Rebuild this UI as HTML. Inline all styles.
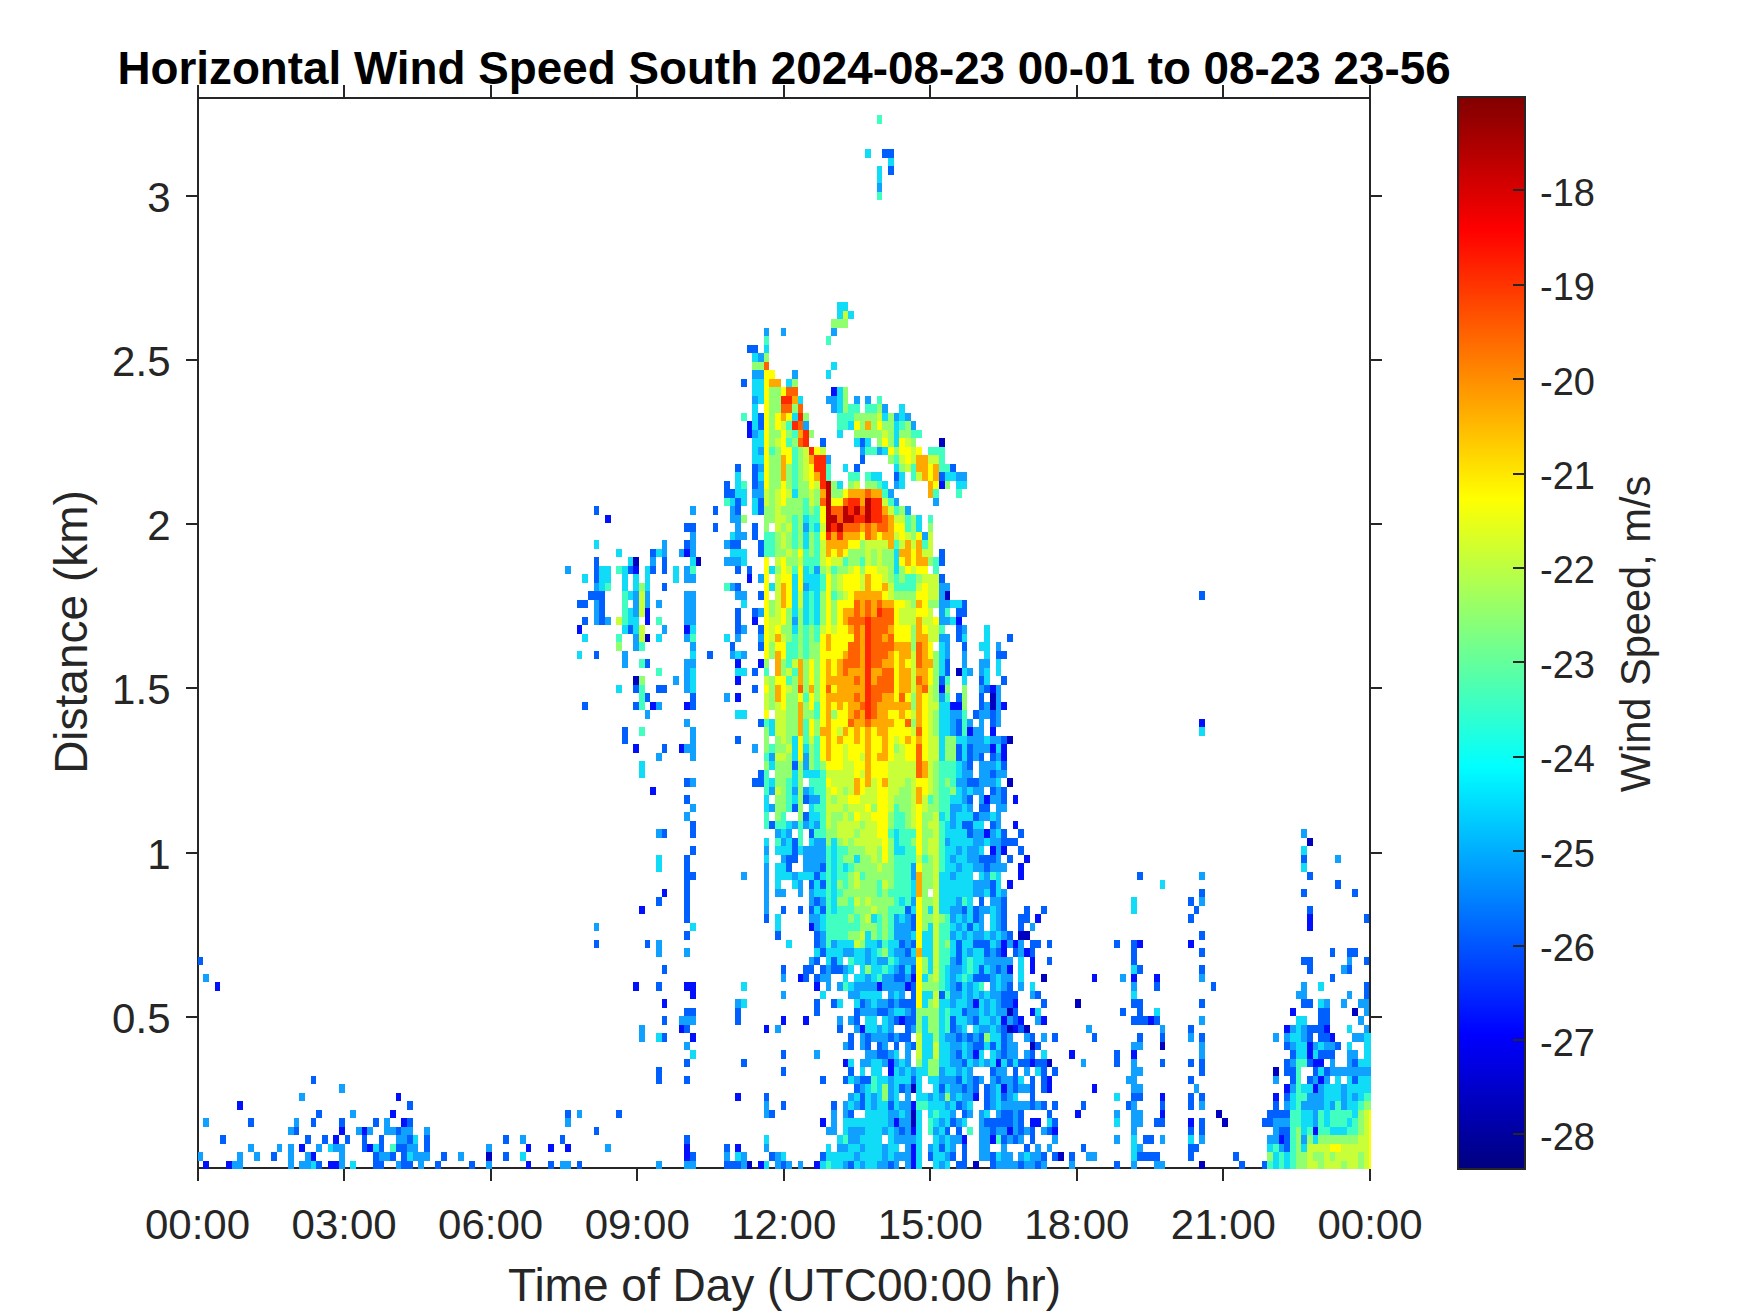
<!DOCTYPE html>
<html><head><meta charset="utf-8"><style>
html,body{margin:0;padding:0;background:#fff;}
body{width:1750px;height:1313px;position:relative;overflow:hidden;}
</style></head><body>
<svg width="1750" height="1313" viewBox="0 0 1750 1313" style="position:absolute;left:0;top:0">
<g stroke="#262626" stroke-width="2" fill="none" shape-rendering="crispEdges">
<path d="M197.5 1168.0V98.0H1370.0V1168.0Z"/>
<path d="M197.5 1168.0v13M197.5 98.0v-13M344.1 1168.0v13M344.1 98.0v-13M490.6 1168.0v13M490.6 98.0v-13M637.2 1168.0v13M637.2 98.0v-13M783.8 1168.0v13M783.8 98.0v-13M930.3 1168.0v13M930.3 98.0v-13M1076.9 1168.0v13M1076.9 98.0v-13M1223.4 1168.0v13M1223.4 98.0v-13M1370.0 1168.0v13M1370.0 98.0v-13M197.5 1016.8h-12M1370.0 1016.8h12M197.5 852.6h-12M1370.0 852.6h12M197.5 688.4h-12M1370.0 688.4h12M197.5 524.2h-12M1370.0 524.2h12M197.5 360.0h-12M1370.0 360.0h12M197.5 195.8h-12M1370.0 195.8h12"/>
</g>
<g shape-rendering="crispEdges">
<path fill="#0010ff" d="M203.2 1160.5H208.8V1169.0H203.2zM225.8 1160.5H231.5V1169.0H225.8zM327.7 1160.5H339.0V1169.0H327.7zM525.8 1160.5H531.4V1169.0H525.8zM757.8 1160.5H763.5V1169.0H757.8zM814.4 1160.5H820.1V1169.0H814.4zM910.7 1160.5H916.3V1169.0H910.7zM310.7 1152.0H316.4V1160.5H310.7zM684.3 1152.0H689.9V1160.5H684.3zM910.7 1152.0H916.3V1160.5H910.7zM299.4 1143.5H305.0V1152.0H299.4zM367.3 1143.5H373.0V1152.0H367.3zM525.8 1143.5H531.4V1152.0H525.8zM548.4 1143.5H554.1V1152.0H548.4zM565.4 1143.5H571.1V1152.0H565.4zM684.3 1143.5H689.9V1152.0H684.3zM735.2 1143.5H740.9V1152.0H735.2zM910.7 1143.5H916.3V1152.0H910.7zM333.3 1135.0H339.0V1143.5H333.3zM961.6 1135.0H967.3V1143.5H961.6zM989.9 1135.0H995.6V1143.5H989.9zM1278.6 1135.0H1284.2V1143.5H1278.6zM339.0 1126.5H344.7V1135.0H339.0zM361.6 1126.5H367.3V1135.0H361.6zM910.7 1126.5H916.3V1135.0H910.7zM1006.9 1126.5H1012.5V1135.0H1006.9zM1052.2 1126.5H1057.8V1135.0H1052.2zM1312.5 1126.5H1318.2V1135.0H1312.5zM401.3 1118.0H406.9V1126.5H401.3zM820.1 1118.0H825.8V1126.5H820.1zM893.7 1118.0H899.3V1126.5H893.7zM1029.5 1118.0H1040.8V1126.5H1029.5zM1188.0 1118.0H1193.7V1126.5H1188.0zM389.9 1109.5H395.6V1118.0H389.9zM1074.8 1109.5H1080.5V1118.0H1074.8zM1159.7 1109.5H1165.4V1118.0H1159.7zM237.1 1101.0H242.8V1109.5H237.1zM910.7 1101.0H916.3V1109.5H910.7zM395.6 1092.5H401.3V1101.0H395.6zM735.2 1092.5H740.9V1101.0H735.2zM972.9 1092.5H978.6V1101.0H972.9zM1159.7 1092.5H1165.4V1101.0H1159.7zM1272.9 1092.5H1278.6V1101.0H1272.9zM1001.2 1084.0H1006.9V1092.5H1001.2zM1046.5 1084.0H1052.2V1092.5H1046.5zM1091.8 1084.0H1097.4V1092.5H1091.8zM1284.2 1084.0H1289.9V1092.5H1284.2zM1312.5 1084.0H1318.2V1092.5H1312.5zM1046.5 1075.5H1052.2V1084.0H1046.5zM1318.2 1075.5H1323.8V1084.0H1318.2zM888.0 1067.0H893.7V1075.5H888.0zM842.7 1058.5H848.4V1067.0H842.7zM888.0 1058.5H893.7V1067.0H888.0zM995.6 1058.5H1001.2V1067.0H995.6zM1029.5 1058.5H1035.2V1067.0H1029.5zM1312.5 1058.5H1323.8V1067.0H1312.5zM972.9 1050.0H978.6V1058.5H972.9zM1069.1 1050.0H1074.8V1058.5H1069.1zM1131.4 1050.0H1137.1V1058.5H1131.4zM1306.9 1050.0H1312.5V1058.5H1306.9zM1306.9 1041.5H1312.5V1050.0H1306.9zM689.9 1033.0H695.6V1041.5H689.9zM1329.5 1033.0H1335.2V1041.5H1329.5zM678.6 1024.5H684.3V1033.0H678.6zM763.5 1024.5H769.2V1033.0H763.5zM859.7 1024.5H865.4V1033.0H859.7zM1012.5 1024.5H1018.2V1033.0H1012.5zM1284.2 1024.5H1289.9V1033.0H1284.2zM1323.8 1024.5H1329.5V1033.0H1323.8zM780.5 1016.0H786.1V1024.5H780.5zM803.1 1016.0H808.8V1024.5H803.1zM899.3 1016.0H905.0V1024.5H899.3zM1001.2 1016.0H1006.9V1024.5H1001.2zM1018.2 1016.0H1023.9V1024.5H1018.2zM1040.8 1016.0H1046.5V1024.5H1040.8zM1148.4 1016.0H1154.0V1024.5H1148.4zM1029.5 1007.5H1035.2V1016.0H1029.5zM1289.9 1007.5H1295.5V1016.0H1289.9zM661.6 999.0H667.3V1007.5H661.6zM972.9 999.0H978.6V1007.5H972.9zM1012.5 999.0H1018.2V1007.5H1012.5zM689.9 990.5H695.6V999.0H689.9zM214.5 982.0H220.1V990.5H214.5zM633.3 982.0H639.0V990.5H633.3zM684.3 982.0H695.6V990.5H684.3zM814.4 982.0H820.1V990.5H814.4zM876.7 982.0H882.4V990.5H876.7zM905.0 982.0H910.7V990.5H905.0zM797.5 973.5H803.1V982.0H797.5zM910.7 973.5H916.3V982.0H910.7zM1091.8 973.5H1097.4V982.0H1091.8zM1131.4 973.5H1137.1V982.0H1131.4zM1154.0 973.5H1159.7V982.0H1154.0zM1006.9 965.0H1012.5V973.5H1006.9zM1029.5 965.0H1035.2V973.5H1029.5zM1029.5 956.5H1035.2V965.0H1029.5zM1001.2 948.0H1006.9V956.5H1001.2zM1023.9 948.0H1029.5V956.5H1023.9zM1001.2 939.5H1006.9V948.0H1001.2zM1012.5 939.5H1018.2V948.0H1012.5zM1137.1 939.5H1142.7V948.0H1137.1zM1188.0 939.5H1193.7V948.0H1188.0zM808.8 922.5H814.4V931.0H808.8zM1306.9 922.5H1312.5V931.0H1306.9zM1035.2 914.0H1040.8V922.5H1035.2zM1306.9 914.0H1312.5V922.5H1306.9zM639.0 905.5H644.6V914.0H639.0zM661.6 888.5H667.3V897.0H661.6zM1006.9 880.0H1012.5V888.5H1006.9zM1018.2 871.5H1023.9V880.0H1018.2zM1018.2 863.0H1023.9V871.5H1018.2zM1023.9 854.5H1029.5V863.0H1023.9zM989.9 846.0H995.6V854.5H989.9zM1001.2 846.0H1006.9V854.5H1001.2zM984.2 829.0H989.9V837.5H984.2zM1012.5 820.5H1018.2V829.0H1012.5zM984.2 795.0H989.9V803.5H984.2zM1012.5 795.0H1018.2V803.5H1012.5zM650.3 786.5H656.0V795.0H650.3zM1001.2 752.5H1006.9V761.0H1001.2zM633.3 744.0H639.0V752.5H633.3zM678.6 744.0H684.3V752.5H678.6zM989.9 744.0H995.6V752.5H989.9zM1001.2 744.0H1006.9V752.5H1001.2zM967.3 727.0H972.9V735.5H967.3zM989.9 727.0H995.6V735.5H989.9zM1199.3 718.5H1205.0V727.0H1199.3zM650.3 701.5H656.0V710.0H650.3zM684.3 701.5H689.9V710.0H684.3zM950.3 701.5H961.6V710.0H950.3zM1001.2 701.5H1006.9V710.0H1001.2zM735.2 693.0H740.9V701.5H735.2zM939.0 684.5H944.6V693.0H939.0zM989.9 684.5H995.6V693.0H989.9zM735.2 676.0H740.9V684.5H735.2zM735.2 659.0H740.9V667.5H735.2zM757.8 659.0H763.5V667.5H757.8zM576.7 625.0H582.4V633.5H576.7zM684.3 625.0H689.9V633.5H684.3zM644.6 616.5H650.3V625.0H644.6zM752.2 616.5H757.8V625.0H752.2zM955.9 616.5H961.6V625.0H955.9zM644.6 608.0H650.3V616.5H644.6zM746.5 574.0H752.2V582.5H746.5zM633.3 565.5H639.0V574.0H633.3zM684.3 548.5H689.9V557.0H684.3zM605.0 514.5H610.7V523.0H605.0zM939.0 480.5H944.6V489.0H939.0zM746.5 429.5H752.2V438.0H746.5zM746.5 421.0H752.2V429.5H746.5zM831.4 387.0H837.1V395.5H831.4z"/>
<path fill="#10a0ff" d="M231.5 1160.5H242.8V1169.0H231.5zM288.1 1160.5H293.7V1169.0H288.1zM299.4 1160.5H310.7V1169.0H299.4zM339.0 1160.5H344.7V1169.0H339.0zM395.6 1160.5H401.3V1169.0H395.6zM418.2 1160.5H423.9V1169.0H418.2zM486.2 1160.5H491.8V1169.0H486.2zM559.7 1160.5H571.1V1169.0H559.7zM656.0 1160.5H661.6V1169.0H656.0zM684.3 1160.5H695.6V1169.0H684.3zM740.9 1160.5H746.5V1169.0H740.9zM774.8 1160.5H780.5V1169.0H774.8zM786.1 1160.5H791.8V1169.0H786.1zM797.5 1160.5H803.1V1169.0H797.5zM842.7 1160.5H848.4V1169.0H842.7zM859.7 1160.5H865.4V1169.0H859.7zM876.7 1160.5H888.0V1169.0H876.7zM893.7 1160.5H899.3V1169.0H893.7zM905.0 1160.5H910.7V1169.0H905.0zM939.0 1160.5H944.6V1169.0H939.0zM995.6 1160.5H1018.2V1169.0H995.6zM1023.9 1160.5H1035.2V1169.0H1023.9zM1040.8 1160.5H1046.5V1169.0H1040.8zM1069.1 1160.5H1074.8V1169.0H1069.1zM1131.4 1160.5H1137.1V1169.0H1131.4zM1154.0 1160.5H1165.4V1169.0H1154.0zM197.5 1152.0H203.2V1160.5H197.5zM237.1 1152.0H242.8V1160.5H237.1zM254.1 1152.0H259.8V1160.5H254.1zM288.1 1152.0H293.7V1160.5H288.1zM305.0 1152.0H310.7V1160.5H305.0zM339.0 1152.0H344.7V1160.5H339.0zM378.6 1152.0H389.9V1160.5H378.6zM412.6 1152.0H429.6V1160.5H412.6zM457.9 1152.0H463.5V1160.5H457.9zM723.9 1152.0H729.5V1160.5H723.9zM740.9 1152.0H746.5V1160.5H740.9zM774.8 1152.0H780.5V1160.5H774.8zM854.1 1152.0H859.7V1160.5H854.1zM882.4 1152.0H888.0V1160.5H882.4zM893.7 1152.0H910.7V1160.5H893.7zM944.6 1152.0H950.3V1160.5H944.6zM978.6 1152.0H989.9V1160.5H978.6zM1001.2 1152.0H1012.5V1160.5H1001.2zM1018.2 1152.0H1023.9V1160.5H1018.2zM1029.5 1152.0H1040.8V1160.5H1029.5zM1086.1 1152.0H1097.4V1160.5H1086.1zM248.4 1143.5H254.1V1152.0H248.4zM276.7 1143.5H282.4V1152.0H276.7zM288.1 1143.5H293.7V1152.0H288.1zM316.4 1143.5H322.0V1152.0H316.4zM333.3 1143.5H344.7V1152.0H333.3zM406.9 1143.5H418.2V1152.0H406.9zM486.2 1143.5H491.8V1152.0H486.2zM605.0 1143.5H610.7V1152.0H605.0zM763.5 1143.5H769.2V1152.0H763.5zM837.1 1143.5H848.4V1152.0H837.1zM859.7 1143.5H865.4V1152.0H859.7zM882.4 1143.5H888.0V1152.0H882.4zM905.0 1143.5H910.7V1152.0H905.0zM927.6 1143.5H933.3V1152.0H927.6zM950.3 1143.5H955.9V1152.0H950.3zM978.6 1143.5H989.9V1152.0H978.6zM1001.2 1143.5H1006.9V1152.0H1001.2zM1035.2 1143.5H1040.8V1152.0H1035.2zM1046.5 1143.5H1052.2V1152.0H1046.5zM1137.1 1143.5H1142.7V1152.0H1137.1zM1278.6 1143.5H1284.2V1152.0H1278.6zM395.6 1135.0H406.9V1143.5H395.6zM520.1 1135.0H525.8V1143.5H520.1zM848.4 1135.0H859.7V1143.5H848.4zM893.7 1135.0H916.3V1143.5H893.7zM939.0 1135.0H944.6V1143.5H939.0zM950.3 1135.0H961.6V1143.5H950.3zM978.6 1135.0H989.9V1143.5H978.6zM1006.9 1135.0H1012.5V1143.5H1006.9zM1018.2 1135.0H1023.9V1143.5H1018.2zM1052.2 1135.0H1057.8V1143.5H1052.2zM1114.4 1135.0H1120.1V1143.5H1114.4zM1159.7 1135.0H1165.4V1143.5H1159.7zM1199.3 1135.0H1205.0V1143.5H1199.3zM1267.2 1135.0H1278.6V1143.5H1267.2zM1301.2 1135.0H1306.9V1143.5H1301.2zM288.1 1126.5H293.7V1135.0H288.1zM356.0 1126.5H361.6V1135.0H356.0zM367.3 1126.5H373.0V1135.0H367.3zM384.3 1126.5H395.6V1135.0H384.3zM401.3 1126.5H412.6V1135.0H401.3zM423.9 1126.5H429.6V1135.0H423.9zM825.8 1126.5H837.1V1135.0H825.8zM848.4 1126.5H865.4V1135.0H848.4zM882.4 1126.5H888.0V1135.0H882.4zM893.7 1126.5H899.3V1135.0H893.7zM905.0 1126.5H910.7V1135.0H905.0zM933.3 1126.5H939.0V1135.0H933.3zM978.6 1126.5H989.9V1135.0H978.6zM995.6 1126.5H1006.9V1135.0H995.6zM1012.5 1126.5H1018.2V1135.0H1012.5zM1023.9 1126.5H1029.5V1135.0H1023.9zM1040.8 1126.5H1046.5V1135.0H1040.8zM1131.4 1126.5H1137.1V1135.0H1131.4zM1272.9 1126.5H1278.6V1135.0H1272.9zM203.2 1118.0H208.8V1126.5H203.2zM293.7 1118.0H299.4V1126.5H293.7zM384.3 1118.0H389.9V1126.5H384.3zM565.4 1118.0H571.1V1126.5H565.4zM831.4 1118.0H837.1V1126.5H831.4zM888.0 1118.0H893.7V1126.5H888.0zM899.3 1118.0H910.7V1126.5H899.3zM939.0 1118.0H944.6V1126.5H939.0zM955.9 1118.0H961.6V1126.5H955.9zM978.6 1118.0H984.2V1126.5H978.6zM1012.5 1118.0H1018.2V1126.5H1012.5zM1131.4 1118.0H1142.7V1126.5H1131.4zM1272.9 1118.0H1289.9V1126.5H1272.9zM1312.5 1118.0H1318.2V1126.5H1312.5zM350.3 1109.5H356.0V1118.0H350.3zM576.7 1109.5H582.4V1118.0H576.7zM763.5 1109.5H769.2V1118.0H763.5zM831.4 1109.5H837.1V1118.0H831.4zM842.7 1109.5H848.4V1118.0H842.7zM888.0 1109.5H899.3V1118.0H888.0zM905.0 1109.5H910.7V1118.0H905.0zM950.3 1109.5H955.9V1118.0H950.3zM967.3 1109.5H972.9V1118.0H967.3zM978.6 1109.5H984.2V1118.0H978.6zM995.6 1109.5H1001.2V1118.0H995.6zM1012.5 1109.5H1018.2V1118.0H1012.5zM1114.4 1109.5H1120.1V1118.0H1114.4zM1131.4 1109.5H1142.7V1118.0H1131.4zM1312.5 1109.5H1318.2V1118.0H1312.5zM763.5 1101.0H769.2V1109.5H763.5zM842.7 1101.0H848.4V1109.5H842.7zM854.1 1101.0H859.7V1109.5H854.1zM871.0 1101.0H876.7V1109.5H871.0zM899.3 1101.0H910.7V1109.5H899.3zM944.6 1101.0H950.3V1109.5H944.6zM961.6 1101.0H967.3V1109.5H961.6zM989.9 1101.0H995.6V1109.5H989.9zM1001.2 1101.0H1029.5V1109.5H1001.2zM1035.2 1101.0H1040.8V1109.5H1035.2zM1131.4 1101.0H1137.1V1109.5H1131.4zM1199.3 1101.0H1205.0V1109.5H1199.3zM1284.2 1101.0H1289.9V1109.5H1284.2zM1301.2 1101.0H1323.8V1109.5H1301.2zM1329.5 1101.0H1335.2V1109.5H1329.5zM1340.8 1101.0H1346.5V1109.5H1340.8zM299.4 1092.5H305.0V1101.0H299.4zM848.4 1092.5H854.1V1101.0H848.4zM871.0 1092.5H876.7V1101.0H871.0zM888.0 1092.5H893.7V1101.0H888.0zM905.0 1092.5H910.7V1101.0H905.0zM927.6 1092.5H933.3V1101.0H927.6zM939.0 1092.5H944.6V1101.0H939.0zM950.3 1092.5H955.9V1101.0H950.3zM961.6 1092.5H972.9V1101.0H961.6zM989.9 1092.5H995.6V1101.0H989.9zM1006.9 1092.5H1012.5V1101.0H1006.9zM1306.9 1092.5H1323.8V1101.0H1306.9zM1340.8 1092.5H1346.5V1101.0H1340.8zM1352.1 1092.5H1357.8V1101.0H1352.1zM339.0 1084.0H344.7V1092.5H339.0zM859.7 1084.0H865.4V1092.5H859.7zM888.0 1084.0H893.7V1092.5H888.0zM905.0 1084.0H910.7V1092.5H905.0zM950.3 1084.0H961.6V1092.5H950.3zM967.3 1084.0H972.9V1092.5H967.3zM989.9 1084.0H995.6V1092.5H989.9zM1006.9 1084.0H1012.5V1092.5H1006.9zM1018.2 1084.0H1029.5V1092.5H1018.2zM1131.4 1084.0H1142.7V1092.5H1131.4zM1193.7 1084.0H1199.3V1092.5H1193.7zM1289.9 1084.0H1295.5V1092.5H1289.9zM1318.2 1084.0H1323.8V1092.5H1318.2zM1340.8 1084.0H1346.5V1092.5H1340.8zM854.1 1075.5H859.7V1084.0H854.1zM888.0 1075.5H893.7V1084.0H888.0zM939.0 1075.5H955.9V1084.0H939.0zM967.3 1075.5H972.9V1084.0H967.3zM978.6 1075.5H984.2V1084.0H978.6zM989.9 1075.5H995.6V1084.0H989.9zM1001.2 1075.5H1012.5V1084.0H1001.2zM1125.7 1075.5H1137.1V1084.0H1125.7zM1272.9 1075.5H1278.6V1084.0H1272.9zM1312.5 1075.5H1318.2V1084.0H1312.5zM1323.8 1075.5H1329.5V1084.0H1323.8zM899.3 1067.0H905.0V1075.5H899.3zM910.7 1067.0H916.3V1075.5H910.7zM939.0 1067.0H944.6V1075.5H939.0zM955.9 1067.0H961.6V1075.5H955.9zM967.3 1067.0H972.9V1075.5H967.3zM995.6 1067.0H1006.9V1075.5H995.6zM1023.9 1067.0H1029.5V1075.5H1023.9zM1131.4 1067.0H1142.7V1075.5H1131.4zM1329.5 1067.0H1371.0V1075.5H1329.5zM859.7 1058.5H871.0V1067.0H859.7zM882.4 1058.5H888.0V1067.0H882.4zM893.7 1058.5H899.3V1067.0H893.7zM905.0 1058.5H910.7V1067.0H905.0zM950.3 1058.5H961.6V1067.0H950.3zM972.9 1058.5H978.6V1067.0H972.9zM984.2 1058.5H989.9V1067.0H984.2zM1080.5 1058.5H1086.1V1067.0H1080.5zM1131.4 1058.5H1137.1V1067.0H1131.4zM1289.9 1058.5H1295.5V1067.0H1289.9zM1329.5 1058.5H1335.2V1067.0H1329.5zM1346.5 1058.5H1352.1V1067.0H1346.5zM814.4 1050.0H820.1V1058.5H814.4zM865.4 1050.0H876.7V1058.5H865.4zM888.0 1050.0H893.7V1058.5H888.0zM905.0 1050.0H910.7V1058.5H905.0zM950.3 1050.0H955.9V1058.5H950.3zM967.3 1050.0H972.9V1058.5H967.3zM995.6 1050.0H1001.2V1058.5H995.6zM1006.9 1050.0H1018.2V1058.5H1006.9zM1023.9 1050.0H1029.5V1058.5H1023.9zM1199.3 1050.0H1205.0V1058.5H1199.3zM1346.5 1050.0H1357.8V1058.5H1346.5zM684.3 1041.5H689.9V1050.0H684.3zM842.7 1041.5H848.4V1050.0H842.7zM859.7 1041.5H865.4V1050.0H859.7zM882.4 1041.5H888.0V1050.0H882.4zM905.0 1041.5H910.7V1050.0H905.0zM950.3 1041.5H961.6V1050.0H950.3zM967.3 1041.5H972.9V1050.0H967.3zM1006.9 1041.5H1018.2V1050.0H1006.9zM1131.4 1041.5H1142.7V1050.0H1131.4zM1199.3 1041.5H1205.0V1050.0H1199.3zM1289.9 1041.5H1295.5V1050.0H1289.9zM1312.5 1041.5H1318.2V1050.0H1312.5zM1323.8 1041.5H1335.2V1050.0H1323.8zM639.0 1033.0H644.6V1041.5H639.0zM859.7 1033.0H865.4V1041.5H859.7zM871.0 1033.0H888.0V1041.5H871.0zM893.7 1033.0H899.3V1041.5H893.7zM944.6 1033.0H955.9V1041.5H944.6zM961.6 1033.0H967.3V1041.5H961.6zM972.9 1033.0H978.6V1041.5H972.9zM1006.9 1033.0H1012.5V1041.5H1006.9zM1023.9 1033.0H1029.5V1041.5H1023.9zM1040.8 1033.0H1046.5V1041.5H1040.8zM1188.0 1033.0H1193.7V1041.5H1188.0zM1272.9 1033.0H1278.6V1041.5H1272.9zM1284.2 1033.0H1289.9V1041.5H1284.2zM1301.2 1033.0H1306.9V1041.5H1301.2zM1352.1 1033.0H1363.5V1041.5H1352.1zM639.0 1024.5H644.6V1033.0H639.0zM774.8 1024.5H780.5V1033.0H774.8zM854.1 1024.5H859.7V1033.0H854.1zM876.7 1024.5H882.4V1033.0H876.7zM888.0 1024.5H893.7V1033.0H888.0zM910.7 1024.5H916.3V1033.0H910.7zM955.9 1024.5H961.6V1033.0H955.9zM978.6 1024.5H989.9V1033.0H978.6zM995.6 1024.5H1001.2V1033.0H995.6zM1086.1 1024.5H1091.8V1033.0H1086.1zM1159.7 1024.5H1165.4V1033.0H1159.7zM1289.9 1024.5H1295.5V1033.0H1289.9zM1301.2 1024.5H1306.9V1033.0H1301.2zM1363.5 1024.5H1369.1V1033.0H1363.5zM678.6 1016.0H695.6V1024.5H678.6zM837.1 1016.0H842.7V1024.5H837.1zM848.4 1016.0H854.1V1024.5H848.4zM888.0 1016.0H893.7V1024.5H888.0zM967.3 1016.0H972.9V1024.5H967.3zM989.9 1016.0H995.6V1024.5H989.9zM1006.9 1016.0H1012.5V1024.5H1006.9zM1035.2 1016.0H1040.8V1024.5H1035.2zM1199.3 1016.0H1205.0V1024.5H1199.3zM1357.8 1016.0H1363.5V1024.5H1357.8zM859.7 1007.5H876.7V1016.0H859.7zM888.0 1007.5H893.7V1016.0H888.0zM905.0 1007.5H910.7V1016.0H905.0zM967.3 1007.5H978.6V1016.0H967.3zM984.2 1007.5H989.9V1016.0H984.2zM995.6 1007.5H1006.9V1016.0H995.6zM1363.5 1007.5H1369.1V1016.0H1363.5zM735.2 999.0H740.9V1007.5H735.2zM865.4 999.0H871.0V1007.5H865.4zM876.7 999.0H888.0V1007.5H876.7zM893.7 999.0H899.3V1007.5H893.7zM950.3 999.0H955.9V1007.5H950.3zM967.3 999.0H972.9V1007.5H967.3zM984.2 999.0H989.9V1007.5H984.2zM995.6 999.0H1001.2V1007.5H995.6zM1323.8 999.0H1329.5V1007.5H1323.8zM1340.8 999.0H1346.5V1007.5H1340.8zM1357.8 999.0H1369.1V1007.5H1357.8zM780.5 990.5H786.1V999.0H780.5zM848.4 990.5H859.7V999.0H848.4zM888.0 990.5H893.7V999.0H888.0zM899.3 990.5H905.0V999.0H899.3zM950.3 990.5H961.6V999.0H950.3zM967.3 990.5H972.9V999.0H967.3zM978.6 990.5H984.2V999.0H978.6zM989.9 990.5H1001.2V999.0H989.9zM1029.5 990.5H1035.2V999.0H1029.5zM1295.5 990.5H1306.9V999.0H1295.5zM1346.5 990.5H1352.1V999.0H1346.5zM825.8 982.0H831.4V990.5H825.8zM837.1 982.0H842.7V990.5H837.1zM854.1 982.0H876.7V990.5H854.1zM882.4 982.0H905.0V990.5H882.4zM950.3 982.0H955.9V990.5H950.3zM967.3 982.0H972.9V990.5H967.3zM989.9 982.0H995.6V990.5H989.9zM1001.2 982.0H1006.9V990.5H1001.2zM1018.2 982.0H1023.9V990.5H1018.2zM1131.4 982.0H1137.1V990.5H1131.4zM1301.2 982.0H1306.9V990.5H1301.2zM203.2 973.5H208.8V982.0H203.2zM780.5 973.5H786.1V982.0H780.5zM820.1 973.5H831.4V982.0H820.1zM865.4 973.5H871.0V982.0H865.4zM882.4 973.5H893.7V982.0H882.4zM905.0 973.5H910.7V982.0H905.0zM950.3 973.5H955.9V982.0H950.3zM989.9 973.5H995.6V982.0H989.9zM1001.2 973.5H1012.5V982.0H1001.2zM1120.1 973.5H1125.7V982.0H1120.1zM1199.3 973.5H1205.0V982.0H1199.3zM825.8 965.0H831.4V973.5H825.8zM842.7 965.0H848.4V973.5H842.7zM893.7 965.0H899.3V973.5H893.7zM950.3 965.0H961.6V973.5H950.3zM989.9 965.0H995.6V973.5H989.9zM1001.2 965.0H1006.9V973.5H1001.2zM1340.8 965.0H1346.5V973.5H1340.8zM808.8 956.5H814.4V965.0H808.8zM865.4 956.5H871.0V965.0H865.4zM876.7 956.5H888.0V965.0H876.7zM899.3 956.5H916.3V965.0H899.3zM950.3 956.5H955.9V965.0H950.3zM984.2 956.5H1012.5V965.0H984.2zM1346.5 956.5H1352.1V965.0H1346.5zM656.0 948.0H661.6V956.5H656.0zM684.3 948.0H689.9V956.5H684.3zM842.7 948.0H854.1V956.5H842.7zM865.4 948.0H871.0V956.5H865.4zM893.7 948.0H905.0V956.5H893.7zM967.3 948.0H972.9V956.5H967.3zM989.9 948.0H995.6V956.5H989.9zM1018.2 948.0H1023.9V956.5H1018.2zM656.0 939.5H661.6V948.0H656.0zM820.1 939.5H825.8V948.0H820.1zM831.4 939.5H837.1V948.0H831.4zM876.7 939.5H882.4V948.0H876.7zM905.0 939.5H910.7V948.0H905.0zM995.6 939.5H1001.2V948.0H995.6zM1006.9 939.5H1012.5V948.0H1006.9zM1018.2 939.5H1023.9V948.0H1018.2zM820.1 931.0H825.8V939.5H820.1zM893.7 931.0H910.7V939.5H893.7zM950.3 931.0H955.9V939.5H950.3zM961.6 931.0H967.3V939.5H961.6zM972.9 931.0H984.2V939.5H972.9zM989.9 931.0H995.6V939.5H989.9zM1001.2 931.0H1006.9V939.5H1001.2zM593.7 922.5H599.4V931.0H593.7zM814.4 922.5H820.1V931.0H814.4zM893.7 922.5H910.7V931.0H893.7zM955.9 922.5H961.6V931.0H955.9zM978.6 922.5H984.2V931.0H978.6zM995.6 922.5H1001.2V931.0H995.6zM1029.5 922.5H1035.2V931.0H1029.5zM808.8 914.0H820.1V922.5H808.8zM893.7 914.0H899.3V922.5H893.7zM905.0 914.0H910.7V922.5H905.0zM950.3 914.0H955.9V922.5H950.3zM961.6 914.0H967.3V922.5H961.6zM978.6 914.0H984.2V922.5H978.6zM995.6 914.0H1001.2V922.5H995.6zM763.5 905.5H769.2V914.0H763.5zM950.3 905.5H961.6V914.0H950.3zM978.6 905.5H989.9V914.0H978.6zM995.6 905.5H1001.2V914.0H995.6zM763.5 897.0H769.2V905.5H763.5zM808.8 897.0H814.4V905.5H808.8zM820.1 897.0H825.8V905.5H820.1zM910.7 897.0H916.3V905.5H910.7zM955.9 897.0H961.6V905.5H955.9zM989.9 897.0H1001.2V905.5H989.9zM1199.3 897.0H1205.0V905.5H1199.3zM763.5 888.5H769.2V897.0H763.5zM774.8 888.5H786.1V897.0H774.8zM797.5 888.5H803.1V897.0H797.5zM808.8 888.5H814.4V897.0H808.8zM972.9 888.5H984.2V897.0H972.9zM1001.2 888.5H1006.9V897.0H1001.2zM763.5 880.0H769.2V888.5H763.5zM797.5 880.0H803.1V888.5H797.5zM972.9 880.0H989.9V888.5H972.9zM740.9 871.5H746.5V880.0H740.9zM763.5 871.5H769.2V880.0H763.5zM791.8 871.5H797.5V880.0H791.8zM910.7 871.5H916.3V880.0H910.7zM950.3 871.5H955.9V880.0H950.3zM984.2 871.5H989.9V880.0H984.2zM1199.3 871.5H1205.0V880.0H1199.3zM763.5 863.0H769.2V871.5H763.5zM803.1 863.0H820.1V871.5H803.1zM910.7 863.0H916.3V871.5H910.7zM955.9 863.0H961.6V871.5H955.9zM972.9 863.0H984.2V871.5H972.9zM989.9 863.0H1006.9V871.5H989.9zM780.5 854.5H786.1V863.0H780.5zM803.1 854.5H825.8V863.0H803.1zM950.3 854.5H955.9V863.0H950.3zM967.3 854.5H978.6V863.0H967.3zM995.6 854.5H1001.2V863.0H995.6zM1335.2 854.5H1340.8V863.0H1335.2zM763.5 846.0H769.2V854.5H763.5zM803.1 846.0H825.8V854.5H803.1zM955.9 846.0H961.6V854.5H955.9zM967.3 846.0H978.6V854.5H967.3zM995.6 846.0H1001.2V854.5H995.6zM780.5 837.5H786.1V846.0H780.5zM814.4 837.5H825.8V846.0H814.4zM944.6 837.5H950.3V846.0H944.6zM972.9 837.5H984.2V846.0H972.9zM989.9 837.5H1001.2V846.0H989.9zM656.0 829.0H661.6V837.5H656.0zM774.8 829.0H780.5V837.5H774.8zM786.1 829.0H791.8V837.5H786.1zM972.9 829.0H984.2V837.5H972.9zM989.9 829.0H995.6V837.5H989.9zM1301.2 829.0H1306.9V837.5H1301.2zM791.8 820.5H797.5V829.0H791.8zM803.1 820.5H808.8V829.0H803.1zM814.4 820.5H820.1V829.0H814.4zM950.3 820.5H955.9V829.0H950.3zM995.6 820.5H1001.2V829.0H995.6zM684.3 812.0H689.9V820.5H684.3zM950.3 812.0H955.9V820.5H950.3zM978.6 812.0H989.9V820.5H978.6zM995.6 812.0H1001.2V820.5H995.6zM689.9 803.5H695.6V812.0H689.9zM769.2 803.5H774.8V812.0H769.2zM950.3 803.5H961.6V812.0H950.3zM967.3 803.5H972.9V812.0H967.3zM995.6 803.5H1006.9V812.0H995.6zM808.8 795.0H820.1V803.5H808.8zM961.6 795.0H967.3V803.5H961.6zM978.6 795.0H984.2V803.5H978.6zM989.9 795.0H1001.2V803.5H989.9zM769.2 786.5H774.8V795.0H769.2zM791.8 786.5H797.5V795.0H791.8zM803.1 786.5H808.8V795.0H803.1zM961.6 786.5H967.3V795.0H961.6zM972.9 786.5H984.2V795.0H972.9zM995.6 786.5H1001.2V795.0H995.6zM689.9 778.0H695.6V786.5H689.9zM955.9 778.0H967.3V786.5H955.9zM978.6 778.0H995.6V786.5H978.6zM961.6 769.5H972.9V778.0H961.6zM978.6 769.5H989.9V778.0H978.6zM995.6 769.5H1006.9V778.0H995.6zM803.1 761.0H808.8V769.5H803.1zM961.6 761.0H967.3V769.5H961.6zM978.6 761.0H995.6V769.5H978.6zM656.0 752.5H661.6V761.0H656.0zM689.9 752.5H695.6V761.0H689.9zM769.2 752.5H774.8V761.0H769.2zM803.1 752.5H808.8V761.0H803.1zM972.9 752.5H978.6V761.0H972.9zM995.6 752.5H1001.2V761.0H995.6zM684.3 744.0H695.6V752.5H684.3zM752.2 744.0H757.8V752.5H752.2zM972.9 744.0H989.9V752.5H972.9zM689.9 735.5H695.6V744.0H689.9zM967.3 735.5H984.2V744.0H967.3zM989.9 735.5H1001.2V744.0H989.9zM689.9 727.0H695.6V735.5H689.9zM950.3 727.0H955.9V735.5H950.3zM972.9 727.0H984.2V735.5H972.9zM684.3 718.5H689.9V727.0H684.3zM950.3 718.5H955.9V727.0H950.3zM967.3 718.5H972.9V727.0H967.3zM978.6 718.5H984.2V727.0H978.6zM995.6 718.5H1001.2V727.0H995.6zM644.6 710.0H650.3V718.5H644.6zM950.3 710.0H961.6V718.5H950.3zM978.6 710.0H989.9V718.5H978.6zM995.6 710.0H1001.2V718.5H995.6zM656.0 701.5H661.6V710.0H656.0zM984.2 701.5H989.9V710.0H984.2zM995.6 701.5H1001.2V710.0H995.6zM723.9 693.0H729.5V701.5H723.9zM939.0 693.0H944.6V701.5H939.0zM995.6 693.0H1001.2V701.5H995.6zM684.3 684.5H689.9V693.0H684.3zM978.6 684.5H984.2V693.0H978.6zM995.6 684.5H1001.2V693.0H995.6zM672.9 676.0H678.6V684.5H672.9zM684.3 676.0H689.9V684.5H684.3zM684.3 667.5H689.9V676.0H684.3zM967.3 667.5H972.9V676.0H967.3zM978.6 667.5H984.2V676.0H978.6zM622.0 659.0H627.7V667.5H622.0zM684.3 659.0H695.6V667.5H684.3zM961.6 659.0H967.3V667.5H961.6zM978.6 659.0H989.9V667.5H978.6zM622.0 650.5H627.7V659.0H622.0zM729.5 650.5H735.2V659.0H729.5zM740.9 650.5H746.5V659.0H740.9zM944.6 650.5H950.3V659.0H944.6zM961.6 650.5H967.3V659.0H961.6zM633.3 642.0H639.0V650.5H633.3zM689.9 642.0H695.6V650.5H689.9zM944.6 642.0H950.3V650.5H944.6zM995.6 642.0H1001.2V650.5H995.6zM633.3 633.5H639.0V642.0H633.3zM684.3 633.5H689.9V642.0H684.3zM735.2 633.5H740.9V642.0H735.2zM757.8 633.5H763.5V642.0H757.8zM939.0 633.5H950.3V642.0H939.0zM661.6 625.0H667.3V633.5H661.6zM740.9 625.0H746.5V633.5H740.9zM961.6 625.0H967.3V633.5H961.6zM593.7 616.5H599.4V625.0H593.7zM605.0 616.5H610.7V625.0H605.0zM684.3 616.5H695.6V625.0H684.3zM791.8 616.5H797.5V625.0H791.8zM939.0 616.5H950.3V625.0H939.0zM593.7 608.0H599.4V616.5H593.7zM633.3 608.0H639.0V616.5H633.3zM684.3 608.0H695.6V616.5H684.3zM757.8 608.0H763.5V616.5H757.8zM939.0 608.0H944.6V616.5H939.0zM593.7 599.5H599.4V608.0H593.7zM633.3 599.5H639.0V608.0H633.3zM644.6 599.5H650.3V608.0H644.6zM656.0 599.5H661.6V608.0H656.0zM684.3 599.5H695.6V608.0H684.3zM939.0 599.5H950.3V608.0H939.0zM633.3 591.0H639.0V599.5H633.3zM644.6 591.0H650.3V599.5H644.6zM684.3 591.0H695.6V599.5H684.3zM735.2 591.0H746.5V599.5H735.2zM939.0 591.0H944.6V599.5H939.0zM593.7 582.5H599.4V591.0H593.7zM729.5 582.5H735.2V591.0H729.5zM803.1 582.5H808.8V591.0H803.1zM939.0 582.5H950.3V591.0H939.0zM684.3 574.0H695.6V582.5H684.3zM757.8 574.0H763.5V582.5H757.8zM565.4 565.5H571.1V574.0H565.4zM684.3 565.5H689.9V574.0H684.3zM814.4 565.5H820.1V574.0H814.4zM650.3 557.0H656.0V565.5H650.3zM723.9 557.0H740.9V565.5H723.9zM661.6 548.5H667.3V557.0H661.6zM678.6 548.5H684.3V557.0H678.6zM689.9 548.5H695.6V557.0H689.9zM661.6 540.0H667.3V548.5H661.6zM689.9 540.0H695.6V548.5H689.9zM723.9 540.0H729.5V548.5H723.9zM689.9 531.5H695.6V540.0H689.9zM735.2 531.5H746.5V540.0H735.2zM922.0 531.5H927.6V540.0H922.0zM735.2 523.0H740.9V531.5H735.2zM803.1 523.0H808.8V531.5H803.1zM729.5 514.5H740.9V523.0H729.5zM689.9 506.0H695.6V514.5H689.9zM729.5 506.0H735.2V514.5H729.5zM905.0 506.0H910.7V514.5H905.0zM893.7 497.5H899.3V506.0H893.7zM933.3 497.5H939.0V506.0H933.3zM752.2 489.0H763.5V497.5H752.2zM888.0 489.0H893.7V497.5H888.0zM757.8 480.5H763.5V489.0H757.8zM893.7 480.5H899.3V489.0H893.7zM955.9 472.0H967.3V480.5H955.9zM757.8 463.5H763.5V472.0H757.8zM825.8 455.0H831.4V463.5H825.8zM757.8 446.5H763.5V455.0H757.8zM859.7 446.5H865.4V455.0H859.7zM876.7 446.5H882.4V455.0H876.7zM752.2 429.5H757.8V438.0H752.2zM803.1 421.0H808.8V429.5H803.1zM910.7 421.0H916.3V429.5H910.7zM893.7 412.5H899.3V421.0H893.7zM905.0 412.5H910.7V421.0H905.0zM831.4 404.0H837.1V412.5H831.4zM882.4 404.0H888.0V412.5H882.4zM752.2 395.5H757.8V404.0H752.2zM825.8 395.5H837.1V404.0H825.8zM854.1 395.5H859.7V404.0H854.1zM865.4 395.5H871.0V404.0H865.4zM752.2 370.0H763.5V378.5H752.2zM791.8 370.0H797.5V378.5H791.8zM757.8 353.0H763.5V361.5H757.8zM763.5 327.5H769.2V336.0H763.5zM780.5 327.5H786.1V336.0H780.5zM831.4 327.5H837.1V336.0H831.4zM876.7 183.0H882.4V191.5H876.7z"/>
<path fill="#10dcf8" d="M310.7 1160.5H316.4V1169.0H310.7zM350.3 1160.5H356.0V1169.0H350.3zM763.5 1160.5H769.2V1169.0H763.5zM820.1 1160.5H825.8V1169.0H820.1zM831.4 1160.5H842.7V1169.0H831.4zM854.1 1160.5H859.7V1169.0H854.1zM865.4 1160.5H876.7V1169.0H865.4zM916.3 1160.5H922.0V1169.0H916.3zM933.3 1160.5H939.0V1169.0H933.3zM944.6 1160.5H950.3V1169.0H944.6zM1272.9 1160.5H1278.6V1169.0H1272.9zM1284.2 1160.5H1289.9V1169.0H1284.2zM406.9 1152.0H412.6V1160.5H406.9zM520.1 1152.0H525.8V1160.5H520.1zM735.2 1152.0H740.9V1160.5H735.2zM780.5 1152.0H786.1V1160.5H780.5zM825.8 1152.0H854.1V1160.5H825.8zM859.7 1152.0H882.4V1160.5H859.7zM888.0 1152.0H893.7V1160.5H888.0zM916.3 1152.0H922.0V1160.5H916.3zM933.3 1152.0H944.6V1160.5H933.3zM995.6 1152.0H1001.2V1160.5H995.6zM1023.9 1152.0H1029.5V1160.5H1023.9zM1131.4 1152.0H1137.1V1160.5H1131.4zM1272.9 1152.0H1278.6V1160.5H1272.9zM1284.2 1152.0H1289.9V1160.5H1284.2zM327.7 1143.5H333.3V1152.0H327.7zM373.0 1143.5H378.6V1152.0H373.0zM825.8 1143.5H831.4V1152.0H825.8zM848.4 1143.5H859.7V1152.0H848.4zM865.4 1143.5H882.4V1152.0H865.4zM888.0 1143.5H899.3V1152.0H888.0zM916.3 1143.5H922.0V1152.0H916.3zM933.3 1143.5H939.0V1152.0H933.3zM944.6 1143.5H950.3V1152.0H944.6zM1131.4 1143.5H1137.1V1152.0H1131.4zM1267.2 1143.5H1272.9V1152.0H1267.2zM1301.2 1143.5H1306.9V1152.0H1301.2zM412.6 1135.0H418.2V1143.5H412.6zM763.5 1135.0H769.2V1143.5H763.5zM837.1 1135.0H842.7V1143.5H837.1zM859.7 1135.0H882.4V1143.5H859.7zM888.0 1135.0H893.7V1143.5H888.0zM916.3 1135.0H922.0V1143.5H916.3zM933.3 1135.0H939.0V1143.5H933.3zM944.6 1135.0H950.3V1143.5H944.6zM1131.4 1135.0H1137.1V1143.5H1131.4zM1188.0 1135.0H1193.7V1143.5H1188.0zM1312.5 1135.0H1318.2V1143.5H1312.5zM842.7 1126.5H848.4V1135.0H842.7zM865.4 1126.5H882.4V1135.0H865.4zM888.0 1126.5H893.7V1135.0H888.0zM916.3 1126.5H922.0V1135.0H916.3zM939.0 1126.5H944.6V1135.0H939.0zM1301.2 1126.5H1306.9V1135.0H1301.2zM1329.5 1126.5H1346.5V1135.0H1329.5zM842.7 1118.0H888.0V1126.5H842.7zM916.3 1118.0H922.0V1126.5H916.3zM933.3 1118.0H939.0V1126.5H933.3zM944.6 1118.0H950.3V1126.5H944.6zM961.6 1118.0H967.3V1126.5H961.6zM1046.5 1118.0H1052.2V1126.5H1046.5zM1114.4 1118.0H1120.1V1126.5H1114.4zM1301.2 1118.0H1312.5V1126.5H1301.2zM1323.8 1118.0H1329.5V1126.5H1323.8zM1346.5 1118.0H1352.1V1126.5H1346.5zM865.4 1109.5H888.0V1118.0H865.4zM899.3 1109.5H905.0V1118.0H899.3zM916.3 1109.5H922.0V1118.0H916.3zM927.6 1109.5H933.3V1118.0H927.6zM939.0 1109.5H950.3V1118.0H939.0zM984.2 1109.5H989.9V1118.0H984.2zM1301.2 1109.5H1312.5V1118.0H1301.2zM1323.8 1109.5H1329.5V1118.0H1323.8zM1352.1 1109.5H1357.8V1118.0H1352.1zM848.4 1101.0H854.1V1109.5H848.4zM865.4 1101.0H871.0V1109.5H865.4zM876.7 1101.0H888.0V1109.5H876.7zM893.7 1101.0H899.3V1109.5H893.7zM927.6 1101.0H944.6V1109.5H927.6zM950.3 1101.0H955.9V1109.5H950.3zM967.3 1101.0H972.9V1109.5H967.3zM995.6 1101.0H1001.2V1109.5H995.6zM1289.9 1101.0H1295.5V1109.5H1289.9zM1323.8 1101.0H1329.5V1109.5H1323.8zM1346.5 1101.0H1357.8V1109.5H1346.5zM854.1 1092.5H859.7V1101.0H854.1zM865.4 1092.5H871.0V1101.0H865.4zM876.7 1092.5H882.4V1101.0H876.7zM893.7 1092.5H899.3V1101.0H893.7zM916.3 1092.5H927.6V1101.0H916.3zM933.3 1092.5H939.0V1101.0H933.3zM955.9 1092.5H961.6V1101.0H955.9zM995.6 1092.5H1001.2V1101.0H995.6zM1012.5 1092.5H1018.2V1101.0H1012.5zM1114.4 1092.5H1120.1V1101.0H1114.4zM1289.9 1092.5H1295.5V1101.0H1289.9zM1323.8 1092.5H1340.8V1101.0H1323.8zM1346.5 1092.5H1352.1V1101.0H1346.5zM1357.8 1092.5H1363.5V1101.0H1357.8zM865.4 1084.0H871.0V1092.5H865.4zM876.7 1084.0H882.4V1092.5H876.7zM893.7 1084.0H899.3V1092.5H893.7zM916.3 1084.0H922.0V1092.5H916.3zM933.3 1084.0H939.0V1092.5H933.3zM944.6 1084.0H950.3V1092.5H944.6zM995.6 1084.0H1001.2V1092.5H995.6zM1301.2 1084.0H1312.5V1092.5H1301.2zM1323.8 1084.0H1340.8V1092.5H1323.8zM1346.5 1084.0H1371.0V1092.5H1346.5zM848.4 1075.5H854.1V1084.0H848.4zM876.7 1075.5H888.0V1084.0H876.7zM893.7 1075.5H910.7V1084.0H893.7zM916.3 1075.5H922.0V1084.0H916.3zM927.6 1075.5H939.0V1084.0H927.6zM961.6 1075.5H967.3V1084.0H961.6zM1018.2 1075.5H1023.9V1084.0H1018.2zM1335.2 1075.5H1340.8V1084.0H1335.2zM1346.5 1075.5H1352.1V1084.0H1346.5zM1357.8 1075.5H1371.0V1084.0H1357.8zM859.7 1067.0H865.4V1075.5H859.7zM871.0 1067.0H882.4V1075.5H871.0zM893.7 1067.0H899.3V1075.5H893.7zM905.0 1067.0H910.7V1075.5H905.0zM916.3 1067.0H927.6V1075.5H916.3zM944.6 1067.0H955.9V1075.5H944.6zM961.6 1067.0H967.3V1075.5H961.6zM1035.2 1067.0H1040.8V1075.5H1035.2zM1318.2 1067.0H1323.8V1075.5H1318.2zM848.4 1058.5H854.1V1067.0H848.4zM871.0 1058.5H882.4V1067.0H871.0zM899.3 1058.5H905.0V1067.0H899.3zM922.0 1058.5H927.6V1067.0H922.0zM939.0 1058.5H950.3V1067.0H939.0zM967.3 1058.5H972.9V1067.0H967.3zM978.6 1058.5H984.2V1067.0H978.6zM989.9 1058.5H995.6V1067.0H989.9zM1001.2 1058.5H1006.9V1067.0H1001.2zM1012.5 1058.5H1018.2V1067.0H1012.5zM1357.8 1058.5H1371.0V1067.0H1357.8zM689.9 1050.0H695.6V1058.5H689.9zM893.7 1050.0H899.3V1058.5H893.7zM922.0 1050.0H933.3V1058.5H922.0zM939.0 1050.0H950.3V1058.5H939.0zM961.6 1050.0H967.3V1058.5H961.6zM978.6 1050.0H984.2V1058.5H978.6zM989.9 1050.0H995.6V1058.5H989.9zM1040.8 1050.0H1046.5V1058.5H1040.8zM1295.5 1050.0H1306.9V1058.5H1295.5zM1312.5 1050.0H1318.2V1058.5H1312.5zM1363.5 1050.0H1371.0V1058.5H1363.5zM922.0 1041.5H933.3V1050.0H922.0zM939.0 1041.5H950.3V1050.0H939.0zM961.6 1041.5H967.3V1050.0H961.6zM984.2 1041.5H989.9V1050.0H984.2zM995.6 1041.5H1001.2V1050.0H995.6zM1295.5 1041.5H1306.9V1050.0H1295.5zM1318.2 1041.5H1323.8V1050.0H1318.2zM1346.5 1041.5H1352.1V1050.0H1346.5zM1363.5 1041.5H1371.0V1050.0H1363.5zM656.0 1033.0H661.6V1041.5H656.0zM922.0 1033.0H933.3V1041.5H922.0zM939.0 1033.0H944.6V1041.5H939.0zM989.9 1033.0H1001.2V1041.5H989.9zM1289.9 1033.0H1301.2V1041.5H1289.9zM1363.5 1033.0H1371.0V1041.5H1363.5zM865.4 1024.5H876.7V1033.0H865.4zM882.4 1024.5H888.0V1033.0H882.4zM922.0 1024.5H927.6V1033.0H922.0zM939.0 1024.5H944.6V1033.0H939.0zM961.6 1024.5H967.3V1033.0H961.6zM972.9 1024.5H978.6V1033.0H972.9zM989.9 1024.5H995.6V1033.0H989.9zM1295.5 1024.5H1301.2V1033.0H1295.5zM1346.5 1024.5H1352.1V1033.0H1346.5zM865.4 1016.0H876.7V1024.5H865.4zM882.4 1016.0H888.0V1024.5H882.4zM922.0 1016.0H927.6V1024.5H922.0zM939.0 1016.0H944.6V1024.5H939.0zM955.9 1016.0H967.3V1024.5H955.9zM978.6 1016.0H989.9V1024.5H978.6zM995.6 1016.0H1001.2V1024.5H995.6zM1295.5 1016.0H1306.9V1024.5H1295.5zM893.7 1007.5H905.0V1016.0H893.7zM939.0 1007.5H944.6V1016.0H939.0zM950.3 1007.5H961.6V1016.0H950.3zM978.6 1007.5H984.2V1016.0H978.6zM989.9 1007.5H995.6V1016.0H989.9zM1035.2 1007.5H1040.8V1016.0H1035.2zM1154.0 1007.5H1159.7V1016.0H1154.0zM740.9 999.0H746.5V1007.5H740.9zM837.1 999.0H842.7V1007.5H837.1zM854.1 999.0H859.7V1007.5H854.1zM871.0 999.0H876.7V1007.5H871.0zM922.0 999.0H927.6V1007.5H922.0zM939.0 999.0H950.3V1007.5H939.0zM955.9 999.0H967.3V1007.5H955.9zM978.6 999.0H984.2V1007.5H978.6zM989.9 999.0H995.6V1007.5H989.9zM1318.2 999.0H1323.8V1007.5H1318.2zM820.1 990.5H825.8V999.0H820.1zM859.7 990.5H882.4V999.0H859.7zM893.7 990.5H899.3V999.0H893.7zM922.0 990.5H933.3V999.0H922.0zM961.6 990.5H967.3V999.0H961.6zM972.9 990.5H978.6V999.0H972.9zM984.2 990.5H989.9V999.0H984.2zM1131.4 990.5H1137.1V999.0H1131.4zM740.9 982.0H746.5V990.5H740.9zM848.4 982.0H854.1V990.5H848.4zM944.6 982.0H950.3V990.5H944.6zM961.6 982.0H967.3V990.5H961.6zM972.9 982.0H978.6V990.5H972.9zM995.6 982.0H1001.2V990.5H995.6zM1029.5 982.0H1035.2V990.5H1029.5zM1318.2 982.0H1323.8V990.5H1318.2zM842.7 973.5H848.4V982.0H842.7zM854.1 973.5H865.4V982.0H854.1zM871.0 973.5H876.7V982.0H871.0zM922.0 973.5H927.6V982.0H922.0zM944.6 973.5H950.3V982.0H944.6zM955.9 973.5H961.6V982.0H955.9zM967.3 973.5H972.9V982.0H967.3zM995.6 973.5H1001.2V982.0H995.6zM1018.2 973.5H1023.9V982.0H1018.2zM848.4 965.0H854.1V973.5H848.4zM859.7 965.0H865.4V973.5H859.7zM871.0 965.0H882.4V973.5H871.0zM888.0 965.0H893.7V973.5H888.0zM905.0 965.0H910.7V973.5H905.0zM927.6 965.0H933.3V973.5H927.6zM944.6 965.0H950.3V973.5H944.6zM961.6 965.0H967.3V973.5H961.6zM972.9 965.0H978.6V973.5H972.9zM984.2 965.0H989.9V973.5H984.2zM1018.2 965.0H1023.9V973.5H1018.2zM1131.4 965.0H1137.1V973.5H1131.4zM825.8 956.5H831.4V965.0H825.8zM837.1 956.5H842.7V965.0H837.1zM854.1 956.5H865.4V965.0H854.1zM871.0 956.5H876.7V965.0H871.0zM893.7 956.5H899.3V965.0H893.7zM927.6 956.5H933.3V965.0H927.6zM961.6 956.5H967.3V965.0H961.6zM972.9 956.5H984.2V965.0H972.9zM1018.2 956.5H1023.9V965.0H1018.2zM814.4 948.0H820.1V956.5H814.4zM825.8 948.0H842.7V956.5H825.8zM854.1 948.0H865.4V956.5H854.1zM871.0 948.0H876.7V956.5H871.0zM888.0 948.0H893.7V956.5H888.0zM910.7 948.0H916.3V956.5H910.7zM922.0 948.0H933.3V956.5H922.0zM950.3 948.0H955.9V956.5H950.3zM961.6 948.0H967.3V956.5H961.6zM972.9 948.0H984.2V956.5H972.9zM786.1 939.5H791.8V948.0H786.1zM837.1 939.5H854.1V948.0H837.1zM865.4 939.5H876.7V948.0H865.4zM888.0 939.5H899.3V948.0H888.0zM922.0 939.5H933.3V948.0H922.0zM950.3 939.5H955.9V948.0H950.3zM961.6 939.5H972.9V948.0H961.6zM989.9 939.5H995.6V948.0H989.9zM865.4 931.0H871.0V939.5H865.4zM910.7 931.0H916.3V939.5H910.7zM922.0 931.0H933.3V939.5H922.0zM955.9 931.0H961.6V939.5H955.9zM967.3 931.0H972.9V939.5H967.3zM984.2 931.0H989.9V939.5H984.2zM995.6 931.0H1001.2V939.5H995.6zM689.9 922.5H695.6V931.0H689.9zM774.8 922.5H780.5V931.0H774.8zM820.1 922.5H825.8V931.0H820.1zM927.6 922.5H933.3V931.0H927.6zM950.3 922.5H955.9V931.0H950.3zM961.6 922.5H967.3V931.0H961.6zM972.9 922.5H978.6V931.0H972.9zM989.9 922.5H995.6V931.0H989.9zM774.8 914.0H780.5V922.5H774.8zM820.1 914.0H825.8V922.5H820.1zM871.0 914.0H876.7V922.5H871.0zM899.3 914.0H905.0V922.5H899.3zM955.9 914.0H961.6V922.5H955.9zM967.3 914.0H972.9V922.5H967.3zM989.9 914.0H995.6V922.5H989.9zM814.4 905.5H820.1V914.0H814.4zM831.4 905.5H837.1V914.0H831.4zM910.7 905.5H916.3V914.0H910.7zM927.6 905.5H933.3V914.0H927.6zM939.0 905.5H950.3V914.0H939.0zM967.3 905.5H972.9V914.0H967.3zM989.9 905.5H995.6V914.0H989.9zM1131.4 905.5H1137.1V914.0H1131.4zM831.4 897.0H837.1V905.5H831.4zM899.3 897.0H905.0V905.5H899.3zM939.0 897.0H955.9V905.5H939.0zM967.3 897.0H972.9V905.5H967.3zM1131.4 897.0H1137.1V905.5H1131.4zM814.4 888.5H825.8V897.0H814.4zM831.4 888.5H837.1V897.0H831.4zM910.7 888.5H916.3V897.0H910.7zM939.0 888.5H972.9V897.0H939.0zM984.2 888.5H989.9V897.0H984.2zM995.6 888.5H1001.2V897.0H995.6zM774.8 880.0H780.5V888.5H774.8zM791.8 880.0H797.5V888.5H791.8zM814.4 880.0H820.1V888.5H814.4zM831.4 880.0H837.1V888.5H831.4zM910.7 880.0H916.3V888.5H910.7zM939.0 880.0H972.9V888.5H939.0zM995.6 880.0H1001.2V888.5H995.6zM1159.7 880.0H1165.4V888.5H1159.7zM774.8 871.5H791.8V880.0H774.8zM797.5 871.5H814.4V880.0H797.5zM820.1 871.5H825.8V880.0H820.1zM831.4 871.5H837.1V880.0H831.4zM939.0 871.5H950.3V880.0H939.0zM955.9 871.5H972.9V880.0H955.9zM978.6 871.5H984.2V880.0H978.6zM995.6 871.5H1001.2V880.0H995.6zM656.0 863.0H661.6V871.5H656.0zM774.8 863.0H786.1V871.5H774.8zM831.4 863.0H837.1V871.5H831.4zM842.7 863.0H848.4V871.5H842.7zM944.6 863.0H955.9V871.5H944.6zM961.6 863.0H972.9V871.5H961.6zM1301.2 863.0H1306.9V871.5H1301.2zM656.0 854.5H661.6V863.0H656.0zM763.5 854.5H769.2V863.0H763.5zM831.4 854.5H837.1V863.0H831.4zM854.1 854.5H859.7V863.0H854.1zM944.6 854.5H950.3V863.0H944.6zM955.9 854.5H967.3V863.0H955.9zM774.8 846.0H791.8V854.5H774.8zM797.5 846.0H803.1V854.5H797.5zM831.4 846.0H837.1V854.5H831.4zM893.7 846.0H905.0V854.5H893.7zM944.6 846.0H955.9V854.5H944.6zM961.6 846.0H967.3V854.5H961.6zM978.6 846.0H984.2V854.5H978.6zM1301.2 846.0H1306.9V854.5H1301.2zM763.5 837.5H769.2V846.0H763.5zM786.1 837.5H791.8V846.0H786.1zM808.8 837.5H814.4V846.0H808.8zM831.4 837.5H837.1V846.0H831.4zM893.7 837.5H899.3V846.0H893.7zM950.3 837.5H972.9V846.0H950.3zM984.2 837.5H989.9V846.0H984.2zM780.5 829.0H786.1V837.5H780.5zM893.7 829.0H899.3V837.5H893.7zM944.6 829.0H967.3V837.5H944.6zM995.6 829.0H1001.2V837.5H995.6zM786.1 820.5H791.8V829.0H786.1zM808.8 820.5H814.4V829.0H808.8zM944.6 820.5H950.3V829.0H944.6zM955.9 820.5H961.6V829.0H955.9zM972.9 820.5H984.2V829.0H972.9zM808.8 812.0H820.1V820.5H808.8zM939.0 812.0H944.6V820.5H939.0zM955.9 812.0H972.9V820.5H955.9zM989.9 812.0H995.6V820.5H989.9zM763.5 803.5H769.2V812.0H763.5zM808.8 803.5H814.4V812.0H808.8zM961.6 803.5H967.3V812.0H961.6zM763.5 795.0H769.2V803.5H763.5zM791.8 795.0H797.5V803.5H791.8zM950.3 795.0H961.6V803.5H950.3zM808.8 786.5H814.4V795.0H808.8zM955.9 786.5H961.6V795.0H955.9zM967.3 786.5H972.9V795.0H967.3zM769.2 778.0H774.8V786.5H769.2zM791.8 778.0H797.5V786.5H791.8zM995.6 778.0H1001.2V786.5H995.6zM639.0 769.5H644.6V778.0H639.0zM791.8 769.5H797.5V778.0H791.8zM803.1 769.5H820.1V778.0H803.1zM955.9 769.5H961.6V778.0H955.9zM639.0 761.0H644.6V769.5H639.0zM769.2 761.0H774.8V769.5H769.2zM955.9 761.0H961.6V769.5H955.9zM995.6 761.0H1001.2V769.5H995.6zM791.8 752.5H797.5V761.0H791.8zM939.0 752.5H944.6V761.0H939.0zM961.6 752.5H967.3V761.0H961.6zM791.8 744.0H797.5V752.5H791.8zM803.1 744.0H808.8V752.5H803.1zM939.0 744.0H944.6V752.5H939.0zM961.6 744.0H967.3V752.5H961.6zM995.6 744.0H1001.2V752.5H995.6zM791.8 735.5H797.5V744.0H791.8zM939.0 735.5H944.6V744.0H939.0zM955.9 735.5H967.3V744.0H955.9zM984.2 735.5H989.9V744.0H984.2zM769.2 727.0H774.8V735.5H769.2zM939.0 727.0H950.3V735.5H939.0zM1199.3 727.0H1205.0V735.5H1199.3zM769.2 718.5H774.8V727.0H769.2zM939.0 718.5H950.3V727.0H939.0zM735.2 710.0H746.5V718.5H735.2zM939.0 710.0H950.3V718.5H939.0zM939.0 701.5H950.3V710.0H939.0zM616.3 684.5H622.0V693.0H616.3zM689.9 684.5H695.6V693.0H689.9zM689.9 676.0H695.6V684.5H689.9zM961.6 676.0H967.3V684.5H961.6zM984.2 676.0H989.9V684.5H984.2zM689.9 667.5H695.6V676.0H689.9zM735.2 667.5H746.5V676.0H735.2zM939.0 667.5H944.6V676.0H939.0zM961.6 667.5H967.3V676.0H961.6zM984.2 667.5H989.9V676.0H984.2zM995.6 667.5H1001.2V676.0H995.6zM939.0 659.0H944.6V667.5H939.0zM995.6 659.0H1001.2V667.5H995.6zM576.7 650.5H582.4V659.0H576.7zM689.9 650.5H695.6V659.0H689.9zM735.2 650.5H740.9V659.0H735.2zM939.0 650.5H944.6V659.0H939.0zM984.2 650.5H989.9V659.0H984.2zM939.0 642.0H944.6V650.5H939.0zM978.6 642.0H989.9V650.5H978.6zM582.4 633.5H588.0V642.0H582.4zM656.0 633.5H661.6V642.0H656.0zM723.9 633.5H729.5V642.0H723.9zM961.6 633.5H967.3V642.0H961.6zM984.2 633.5H989.9V642.0H984.2zM622.0 625.0H627.7V633.5H622.0zM633.3 625.0H639.0V633.5H633.3zM689.9 625.0H695.6V633.5H689.9zM791.8 625.0H797.5V633.5H791.8zM984.2 625.0H989.9V633.5H984.2zM627.7 616.5H639.0V625.0H627.7zM803.1 616.5H808.8V625.0H803.1zM814.4 616.5H820.1V625.0H814.4zM950.3 616.5H955.9V625.0H950.3zM627.7 608.0H633.3V616.5H627.7zM791.8 608.0H797.5V616.5H791.8zM803.1 608.0H808.8V616.5H803.1zM814.4 608.0H820.1V616.5H814.4zM740.9 599.5H746.5V608.0H740.9zM791.8 599.5H797.5V608.0H791.8zM803.1 599.5H808.8V608.0H803.1zM814.4 599.5H820.1V608.0H814.4zM950.3 599.5H961.6V608.0H950.3zM627.7 591.0H633.3V599.5H627.7zM791.8 591.0H797.5V599.5H791.8zM803.1 591.0H808.8V599.5H803.1zM814.4 591.0H820.1V599.5H814.4zM599.4 582.5H605.0V591.0H599.4zM622.0 582.5H627.7V591.0H622.0zM633.3 582.5H639.0V591.0H633.3zM644.6 582.5H650.3V591.0H644.6zM769.2 582.5H774.8V591.0H769.2zM791.8 582.5H797.5V591.0H791.8zM808.8 582.5H820.1V591.0H808.8zM582.4 574.0H588.0V582.5H582.4zM599.4 574.0H610.7V582.5H599.4zM622.0 574.0H627.7V582.5H622.0zM633.3 574.0H639.0V582.5H633.3zM644.6 574.0H650.3V582.5H644.6zM672.9 574.0H678.6V582.5H672.9zM791.8 574.0H797.5V582.5H791.8zM803.1 574.0H820.1V582.5H803.1zM599.4 565.5H610.7V574.0H599.4zM622.0 565.5H627.7V574.0H622.0zM644.6 565.5H650.3V574.0H644.6zM672.9 565.5H678.6V574.0H672.9zM769.2 565.5H774.8V574.0H769.2zM803.1 565.5H808.8V574.0H803.1zM893.7 565.5H899.3V574.0H893.7zM627.7 557.0H633.3V565.5H627.7zM689.9 557.0H695.6V565.5H689.9zM740.9 557.0H746.5V565.5H740.9zM893.7 557.0H899.3V565.5H893.7zM616.3 548.5H622.0V557.0H616.3zM656.0 548.5H661.6V557.0H656.0zM729.5 548.5H746.5V557.0H729.5zM893.7 548.5H899.3V557.0H893.7zM593.7 540.0H599.4V548.5H593.7zM803.1 540.0H808.8V548.5H803.1zM729.5 531.5H735.2V540.0H729.5zM803.1 531.5H808.8V540.0H803.1zM814.4 523.0H820.1V531.5H814.4zM916.3 523.0H922.0V531.5H916.3zM803.1 514.5H808.8V523.0H803.1zM916.3 514.5H922.0V523.0H916.3zM752.2 506.0H757.8V514.5H752.2zM729.5 497.5H735.2V506.0H729.5zM740.9 497.5H746.5V506.0H740.9zM752.2 497.5H757.8V506.0H752.2zM735.2 489.0H746.5V497.5H735.2zM791.8 489.0H797.5V497.5H791.8zM735.2 480.5H740.9V489.0H735.2zM837.1 480.5H842.7V489.0H837.1zM882.4 480.5H888.0V489.0H882.4zM899.3 480.5H905.0V489.0H899.3zM955.9 480.5H967.3V489.0H955.9zM735.2 472.0H740.9V480.5H735.2zM757.8 472.0H763.5V480.5H757.8zM871.0 472.0H882.4V480.5H871.0zM899.3 472.0H905.0V480.5H899.3zM944.6 472.0H955.9V480.5H944.6zM842.7 463.5H848.4V472.0H842.7zM893.7 463.5H899.3V472.0H893.7zM752.2 455.0H763.5V463.5H752.2zM752.2 446.5H757.8V455.0H752.2zM882.4 446.5H888.0V455.0H882.4zM752.2 438.0H763.5V446.5H752.2zM854.1 438.0H859.7V446.5H854.1zM865.4 438.0H871.0V446.5H865.4zM893.7 438.0H899.3V446.5H893.7zM757.8 429.5H763.5V438.0H757.8zM837.1 429.5H842.7V438.0H837.1zM893.7 429.5H899.3V438.0H893.7zM752.2 421.0H757.8V429.5H752.2zM848.4 421.0H854.1V429.5H848.4zM893.7 421.0H899.3V429.5H893.7zM752.2 412.5H757.8V421.0H752.2zM791.8 412.5H797.5V421.0H791.8zM882.4 412.5H888.0V421.0H882.4zM899.3 412.5H905.0V421.0H899.3zM752.2 404.0H757.8V412.5H752.2zM837.1 404.0H842.7V412.5H837.1zM899.3 404.0H905.0V412.5H899.3zM757.8 395.5H763.5V404.0H757.8zM797.5 395.5H803.1V404.0H797.5zM837.1 395.5H842.7V404.0H837.1zM752.2 387.0H763.5V395.5H752.2zM837.1 387.0H842.7V395.5H837.1zM752.2 378.5H763.5V387.0H752.2zM786.1 378.5H791.8V387.0H786.1zM825.8 370.0H831.4V378.5H825.8zM831.4 361.5H837.1V370.0H831.4zM752.2 353.0H757.8V361.5H752.2zM763.5 344.5H769.2V353.0H763.5zM837.1 310.5H842.7V319.0H837.1zM848.4 310.5H854.1V319.0H848.4zM837.1 302.0H848.4V310.5H837.1zM876.7 174.5H882.4V183.0H876.7zM876.7 166.0H882.4V174.5H876.7zM888.0 157.5H893.7V166.0H888.0zM865.4 149.0H871.0V157.5H865.4z"/>
<path fill="#0060ff" d="M316.4 1160.5H322.0V1169.0H316.4zM373.0 1160.5H384.3V1169.0H373.0zM401.3 1160.5H412.6V1169.0H401.3zM435.2 1160.5H440.9V1169.0H435.2zM469.2 1160.5H474.8V1169.0H469.2zM548.4 1160.5H554.1V1169.0H548.4zM576.7 1160.5H582.4V1169.0H576.7zM723.9 1160.5H740.9V1169.0H723.9zM780.5 1160.5H786.1V1169.0H780.5zM848.4 1160.5H854.1V1169.0H848.4zM888.0 1160.5H893.7V1169.0H888.0zM955.9 1160.5H967.3V1169.0H955.9zM989.9 1160.5H995.6V1169.0H989.9zM1018.2 1160.5H1023.9V1169.0H1018.2zM1035.2 1160.5H1040.8V1169.0H1035.2zM1114.4 1160.5H1120.1V1169.0H1114.4zM1238.9 1160.5H1244.6V1169.0H1238.9zM1261.6 1160.5H1267.2V1169.0H1261.6zM271.1 1152.0H276.7V1160.5H271.1zM373.0 1152.0H378.6V1160.5H373.0zM389.9 1152.0H395.6V1160.5H389.9zM401.3 1152.0H406.9V1160.5H401.3zM440.9 1152.0H446.5V1160.5H440.9zM503.1 1152.0H508.8V1160.5H503.1zM689.9 1152.0H695.6V1160.5H689.9zM769.2 1152.0H774.8V1160.5H769.2zM820.1 1152.0H825.8V1160.5H820.1zM927.6 1152.0H933.3V1160.5H927.6zM950.3 1152.0H955.9V1160.5H950.3zM961.6 1152.0H967.3V1160.5H961.6zM989.9 1152.0H995.6V1160.5H989.9zM1040.8 1152.0H1046.5V1160.5H1040.8zM1052.2 1152.0H1057.8V1160.5H1052.2zM1069.1 1152.0H1074.8V1160.5H1069.1zM1137.1 1152.0H1159.7V1160.5H1137.1zM1188.0 1152.0H1193.7V1160.5H1188.0zM1233.3 1152.0H1238.9V1160.5H1233.3zM361.6 1143.5H367.3V1152.0H361.6zM378.6 1143.5H384.3V1152.0H378.6zM395.6 1143.5H406.9V1152.0H395.6zM423.9 1143.5H429.6V1152.0H423.9zM723.9 1143.5H729.5V1152.0H723.9zM939.0 1143.5H944.6V1152.0H939.0zM961.6 1143.5H967.3V1152.0H961.6zM1023.9 1143.5H1029.5V1152.0H1023.9zM1080.5 1143.5H1086.1V1152.0H1080.5zM1188.0 1143.5H1199.3V1152.0H1188.0zM1284.2 1143.5H1289.9V1152.0H1284.2zM220.1 1135.0H225.8V1143.5H220.1zM305.0 1135.0H310.7V1143.5H305.0zM322.0 1135.0H327.7V1143.5H322.0zM344.7 1135.0H350.3V1143.5H344.7zM361.6 1135.0H367.3V1143.5H361.6zM378.6 1135.0H384.3V1143.5H378.6zM406.9 1135.0H412.6V1143.5H406.9zM423.9 1135.0H429.6V1143.5H423.9zM503.1 1135.0H508.8V1143.5H503.1zM559.7 1135.0H565.4V1143.5H559.7zM684.3 1135.0H689.9V1143.5H684.3zM1001.2 1135.0H1006.9V1143.5H1001.2zM1012.5 1135.0H1018.2V1143.5H1012.5zM1029.5 1135.0H1035.2V1143.5H1029.5zM1142.7 1135.0H1154.0V1143.5H1142.7zM1284.2 1135.0H1289.9V1143.5H1284.2zM293.7 1126.5H299.4V1135.0H293.7zM395.6 1126.5H401.3V1135.0H395.6zM593.7 1126.5H599.4V1135.0H593.7zM899.3 1126.5H905.0V1135.0H899.3zM944.6 1126.5H950.3V1135.0H944.6zM955.9 1126.5H961.6V1135.0H955.9zM989.9 1126.5H995.6V1135.0H989.9zM1018.2 1126.5H1023.9V1135.0H1018.2zM1029.5 1126.5H1035.2V1135.0H1029.5zM1046.5 1126.5H1052.2V1135.0H1046.5zM1188.0 1126.5H1193.7V1135.0H1188.0zM1199.3 1126.5H1205.0V1135.0H1199.3zM1278.6 1126.5H1289.9V1135.0H1278.6zM248.4 1118.0H254.1V1126.5H248.4zM310.7 1118.0H316.4V1126.5H310.7zM339.0 1118.0H344.7V1126.5H339.0zM373.0 1118.0H378.6V1126.5H373.0zM406.9 1118.0H412.6V1126.5H406.9zM950.3 1118.0H955.9V1126.5H950.3zM984.2 1118.0H1012.5V1126.5H984.2zM1018.2 1118.0H1023.9V1126.5H1018.2zM1052.2 1118.0H1057.8V1126.5H1052.2zM1154.0 1118.0H1165.4V1126.5H1154.0zM1199.3 1118.0H1205.0V1126.5H1199.3zM1261.6 1118.0H1272.9V1126.5H1261.6zM316.4 1109.5H322.0V1118.0H316.4zM565.4 1109.5H571.1V1118.0H565.4zM616.3 1109.5H622.0V1118.0H616.3zM769.2 1109.5H774.8V1118.0H769.2zM848.4 1109.5H854.1V1118.0H848.4zM961.6 1109.5H967.3V1118.0H961.6zM1001.2 1109.5H1012.5V1118.0H1001.2zM1018.2 1109.5H1023.9V1118.0H1018.2zM1046.5 1109.5H1052.2V1118.0H1046.5zM1267.2 1109.5H1289.9V1118.0H1267.2zM406.9 1101.0H412.6V1109.5H406.9zM780.5 1101.0H786.1V1109.5H780.5zM831.4 1101.0H837.1V1109.5H831.4zM859.7 1101.0H865.4V1109.5H859.7zM888.0 1101.0H893.7V1109.5H888.0zM955.9 1101.0H961.6V1109.5H955.9zM984.2 1101.0H989.9V1109.5H984.2zM1029.5 1101.0H1035.2V1109.5H1029.5zM1040.8 1101.0H1046.5V1109.5H1040.8zM1052.2 1101.0H1057.8V1109.5H1052.2zM1080.5 1101.0H1086.1V1109.5H1080.5zM1125.7 1101.0H1131.4V1109.5H1125.7zM1159.7 1101.0H1165.4V1109.5H1159.7zM1188.0 1101.0H1193.7V1109.5H1188.0zM1272.9 1101.0H1278.6V1109.5H1272.9zM763.5 1092.5H769.2V1101.0H763.5zM859.7 1092.5H865.4V1101.0H859.7zM984.2 1092.5H989.9V1101.0H984.2zM1001.2 1092.5H1006.9V1101.0H1001.2zM1029.5 1092.5H1035.2V1101.0H1029.5zM1131.4 1092.5H1142.7V1101.0H1131.4zM1188.0 1092.5H1193.7V1101.0H1188.0zM1199.3 1092.5H1205.0V1101.0H1199.3zM1284.2 1092.5H1289.9V1101.0H1284.2zM854.1 1084.0H859.7V1092.5H854.1zM899.3 1084.0H905.0V1092.5H899.3zM939.0 1084.0H944.6V1092.5H939.0zM961.6 1084.0H967.3V1092.5H961.6zM972.9 1084.0H978.6V1092.5H972.9zM984.2 1084.0H989.9V1092.5H984.2zM1012.5 1084.0H1018.2V1092.5H1012.5zM1029.5 1084.0H1035.2V1092.5H1029.5zM1040.8 1084.0H1046.5V1092.5H1040.8zM310.7 1075.5H316.4V1084.0H310.7zM656.0 1075.5H661.6V1084.0H656.0zM684.3 1075.5H689.9V1084.0H684.3zM820.1 1075.5H825.8V1084.0H820.1zM842.7 1075.5H848.4V1084.0H842.7zM859.7 1075.5H871.0V1084.0H859.7zM910.7 1075.5H916.3V1084.0H910.7zM955.9 1075.5H961.6V1084.0H955.9zM972.9 1075.5H978.6V1084.0H972.9zM995.6 1075.5H1001.2V1084.0H995.6zM1012.5 1075.5H1018.2V1084.0H1012.5zM1029.5 1075.5H1035.2V1084.0H1029.5zM1040.8 1075.5H1046.5V1084.0H1040.8zM1188.0 1075.5H1193.7V1084.0H1188.0zM1289.9 1075.5H1295.5V1084.0H1289.9zM1306.9 1075.5H1312.5V1084.0H1306.9zM1352.1 1075.5H1357.8V1084.0H1352.1zM656.0 1067.0H661.6V1075.5H656.0zM780.5 1067.0H786.1V1075.5H780.5zM848.4 1067.0H854.1V1075.5H848.4zM989.9 1067.0H995.6V1075.5H989.9zM1012.5 1067.0H1018.2V1075.5H1012.5zM1040.8 1067.0H1046.5V1075.5H1040.8zM1052.2 1067.0H1057.8V1075.5H1052.2zM1199.3 1067.0H1205.0V1075.5H1199.3zM1284.2 1067.0H1295.5V1075.5H1284.2zM1312.5 1067.0H1318.2V1075.5H1312.5zM1323.8 1067.0H1329.5V1075.5H1323.8zM684.3 1058.5H689.9V1067.0H684.3zM740.9 1058.5H746.5V1067.0H740.9zM961.6 1058.5H967.3V1067.0H961.6zM1006.9 1058.5H1012.5V1067.0H1006.9zM1018.2 1058.5H1029.5V1067.0H1018.2zM1035.2 1058.5H1046.5V1067.0H1035.2zM1114.4 1058.5H1120.1V1067.0H1114.4zM1159.7 1058.5H1165.4V1067.0H1159.7zM1188.0 1058.5H1193.7V1067.0H1188.0zM1199.3 1058.5H1205.0V1067.0H1199.3zM1284.2 1058.5H1289.9V1067.0H1284.2zM1306.9 1058.5H1312.5V1067.0H1306.9zM1352.1 1058.5H1357.8V1067.0H1352.1zM780.5 1050.0H786.1V1058.5H780.5zM876.7 1050.0H888.0V1058.5H876.7zM955.9 1050.0H961.6V1058.5H955.9zM1001.2 1050.0H1006.9V1058.5H1001.2zM1029.5 1050.0H1035.2V1058.5H1029.5zM1114.4 1050.0H1120.1V1058.5H1114.4zM1289.9 1050.0H1295.5V1058.5H1289.9zM1318.2 1050.0H1335.2V1058.5H1318.2zM848.4 1041.5H854.1V1050.0H848.4zM865.4 1041.5H871.0V1050.0H865.4zM876.7 1041.5H882.4V1050.0H876.7zM893.7 1041.5H899.3V1050.0H893.7zM910.7 1041.5H916.3V1050.0H910.7zM972.9 1041.5H984.2V1050.0H972.9zM989.9 1041.5H995.6V1050.0H989.9zM1001.2 1041.5H1006.9V1050.0H1001.2zM1035.2 1041.5H1040.8V1050.0H1035.2zM1284.2 1041.5H1289.9V1050.0H1284.2zM1335.2 1041.5H1340.8V1050.0H1335.2zM661.6 1033.0H667.3V1041.5H661.6zM848.4 1033.0H854.1V1041.5H848.4zM865.4 1033.0H871.0V1041.5H865.4zM888.0 1033.0H893.7V1041.5H888.0zM899.3 1033.0H910.7V1041.5H899.3zM955.9 1033.0H961.6V1041.5H955.9zM967.3 1033.0H972.9V1041.5H967.3zM978.6 1033.0H984.2V1041.5H978.6zM1001.2 1033.0H1006.9V1041.5H1001.2zM1029.5 1033.0H1035.2V1041.5H1029.5zM1052.2 1033.0H1057.8V1041.5H1052.2zM1091.8 1033.0H1097.4V1041.5H1091.8zM1137.1 1033.0H1142.7V1041.5H1137.1zM1159.7 1033.0H1165.4V1041.5H1159.7zM1199.3 1033.0H1205.0V1041.5H1199.3zM1306.9 1033.0H1312.5V1041.5H1306.9zM1318.2 1033.0H1329.5V1041.5H1318.2zM684.3 1024.5H689.9V1033.0H684.3zM837.1 1024.5H842.7V1033.0H837.1zM905.0 1024.5H910.7V1033.0H905.0zM950.3 1024.5H955.9V1033.0H950.3zM1001.2 1024.5H1006.9V1033.0H1001.2zM1018.2 1024.5H1023.9V1033.0H1018.2zM1188.0 1024.5H1193.7V1033.0H1188.0zM1306.9 1024.5H1323.8V1033.0H1306.9zM661.6 1016.0H667.3V1024.5H661.6zM735.2 1016.0H740.9V1024.5H735.2zM854.1 1016.0H859.7V1024.5H854.1zM893.7 1016.0H899.3V1024.5H893.7zM905.0 1016.0H916.3V1024.5H905.0zM950.3 1016.0H955.9V1024.5H950.3zM972.9 1016.0H978.6V1024.5H972.9zM1012.5 1016.0H1018.2V1024.5H1012.5zM1131.4 1016.0H1148.4V1024.5H1131.4zM1154.0 1016.0H1159.7V1024.5H1154.0zM1318.2 1016.0H1329.5V1024.5H1318.2zM684.3 1007.5H695.6V1016.0H684.3zM735.2 1007.5H740.9V1016.0H735.2zM814.4 1007.5H820.1V1016.0H814.4zM854.1 1007.5H859.7V1016.0H854.1zM876.7 1007.5H888.0V1016.0H876.7zM910.7 1007.5H916.3V1016.0H910.7zM961.6 1007.5H967.3V1016.0H961.6zM1012.5 1007.5H1018.2V1016.0H1012.5zM1120.1 1007.5H1125.7V1016.0H1120.1zM1137.1 1007.5H1142.7V1016.0H1137.1zM1318.2 1007.5H1329.5V1016.0H1318.2zM814.4 999.0H820.1V1007.5H814.4zM831.4 999.0H837.1V1007.5H831.4zM859.7 999.0H865.4V1007.5H859.7zM888.0 999.0H893.7V1007.5H888.0zM899.3 999.0H916.3V1007.5H899.3zM1001.2 999.0H1012.5V1007.5H1001.2zM1040.8 999.0H1046.5V1007.5H1040.8zM1131.4 999.0H1142.7V1007.5H1131.4zM1199.3 999.0H1205.0V1007.5H1199.3zM1301.2 999.0H1312.5V1007.5H1301.2zM910.7 990.5H916.3V999.0H910.7zM939.0 990.5H944.6V999.0H939.0zM1001.2 990.5H1018.2V999.0H1001.2zM1035.2 990.5H1040.8V999.0H1035.2zM1363.5 990.5H1369.1V999.0H1363.5zM656.0 982.0H661.6V990.5H656.0zM910.7 982.0H916.3V990.5H910.7zM955.9 982.0H961.6V990.5H955.9zM1006.9 982.0H1012.5V990.5H1006.9zM1154.0 982.0H1159.7V990.5H1154.0zM1210.6 982.0H1216.3V990.5H1210.6zM1363.5 982.0H1369.1V990.5H1363.5zM803.1 973.5H808.8V982.0H803.1zM814.4 973.5H820.1V982.0H814.4zM893.7 973.5H905.0V982.0H893.7zM972.9 973.5H989.9V982.0H972.9zM1329.5 973.5H1335.2V982.0H1329.5zM661.6 965.0H667.3V973.5H661.6zM780.5 965.0H786.1V973.5H780.5zM803.1 965.0H814.4V973.5H803.1zM820.1 965.0H825.8V973.5H820.1zM831.4 965.0H842.7V973.5H831.4zM899.3 965.0H905.0V973.5H899.3zM910.7 965.0H916.3V973.5H910.7zM978.6 965.0H984.2V973.5H978.6zM995.6 965.0H1001.2V973.5H995.6zM1137.1 965.0H1142.7V973.5H1137.1zM1199.3 965.0H1205.0V973.5H1199.3zM1306.9 965.0H1312.5V973.5H1306.9zM1346.5 965.0H1352.1V973.5H1346.5zM197.5 956.5H203.2V965.0H197.5zM814.4 956.5H820.1V965.0H814.4zM831.4 956.5H837.1V965.0H831.4zM955.9 956.5H961.6V965.0H955.9zM1046.5 956.5H1052.2V965.0H1046.5zM1131.4 956.5H1137.1V965.0H1131.4zM1301.2 956.5H1312.5V965.0H1301.2zM1363.5 956.5H1369.1V965.0H1363.5zM820.1 948.0H825.8V956.5H820.1zM905.0 948.0H910.7V956.5H905.0zM955.9 948.0H961.6V956.5H955.9zM984.2 948.0H989.9V956.5H984.2zM995.6 948.0H1001.2V956.5H995.6zM1012.5 948.0H1018.2V956.5H1012.5zM1029.5 948.0H1035.2V956.5H1029.5zM1131.4 948.0H1137.1V956.5H1131.4zM1199.3 948.0H1205.0V956.5H1199.3zM1329.5 948.0H1335.2V956.5H1329.5zM1346.5 948.0H1357.8V956.5H1346.5zM593.7 939.5H599.4V948.0H593.7zM644.6 939.5H650.3V948.0H644.6zM814.4 939.5H820.1V948.0H814.4zM899.3 939.5H905.0V948.0H899.3zM910.7 939.5H916.3V948.0H910.7zM955.9 939.5H961.6V948.0H955.9zM972.9 939.5H989.9V948.0H972.9zM1029.5 939.5H1040.8V948.0H1029.5zM1046.5 939.5H1052.2V948.0H1046.5zM1114.4 939.5H1120.1V948.0H1114.4zM1131.4 939.5H1137.1V948.0H1131.4zM684.3 931.0H689.9V939.5H684.3zM774.8 931.0H780.5V939.5H774.8zM814.4 931.0H820.1V939.5H814.4zM1006.9 931.0H1012.5V939.5H1006.9zM1199.3 931.0H1205.0V939.5H1199.3zM910.7 922.5H916.3V931.0H910.7zM967.3 922.5H972.9V931.0H967.3zM1001.2 922.5H1006.9V931.0H1001.2zM1018.2 922.5H1023.9V931.0H1018.2zM684.3 914.0H689.9V922.5H684.3zM763.5 914.0H769.2V922.5H763.5zM910.7 914.0H916.3V922.5H910.7zM972.9 914.0H978.6V922.5H972.9zM1001.2 914.0H1006.9V922.5H1001.2zM1018.2 914.0H1029.5V922.5H1018.2zM1188.0 914.0H1193.7V922.5H1188.0zM1363.5 914.0H1369.1V922.5H1363.5zM684.3 905.5H689.9V914.0H684.3zM780.5 905.5H786.1V914.0H780.5zM797.5 905.5H803.1V914.0H797.5zM808.8 905.5H814.4V914.0H808.8zM820.1 905.5H825.8V914.0H820.1zM905.0 905.5H910.7V914.0H905.0zM961.6 905.5H967.3V914.0H961.6zM972.9 905.5H978.6V914.0H972.9zM1001.2 905.5H1006.9V914.0H1001.2zM1023.9 905.5H1029.5V914.0H1023.9zM1040.8 905.5H1046.5V914.0H1040.8zM1193.7 905.5H1199.3V914.0H1193.7zM1306.9 905.5H1312.5V914.0H1306.9zM656.0 897.0H661.6V905.5H656.0zM684.3 897.0H689.9V905.5H684.3zM814.4 897.0H820.1V905.5H814.4zM978.6 897.0H984.2V905.5H978.6zM1001.2 897.0H1006.9V905.5H1001.2zM1188.0 897.0H1193.7V905.5H1188.0zM684.3 888.5H689.9V897.0H684.3zM989.9 888.5H995.6V897.0H989.9zM1199.3 888.5H1205.0V897.0H1199.3zM1301.2 888.5H1306.9V897.0H1301.2zM1352.1 888.5H1357.8V897.0H1352.1zM684.3 880.0H689.9V888.5H684.3zM808.8 880.0H814.4V888.5H808.8zM820.1 880.0H825.8V888.5H820.1zM989.9 880.0H995.6V888.5H989.9zM1335.2 880.0H1340.8V888.5H1335.2zM684.3 871.5H695.6V880.0H684.3zM814.4 871.5H820.1V880.0H814.4zM1137.1 871.5H1142.7V880.0H1137.1zM1306.9 871.5H1312.5V880.0H1306.9zM684.3 863.0H689.9V871.5H684.3zM786.1 863.0H791.8V871.5H786.1zM820.1 863.0H825.8V871.5H820.1zM984.2 863.0H989.9V871.5H984.2zM684.3 854.5H689.9V863.0H684.3zM786.1 854.5H797.5V863.0H786.1zM978.6 854.5H995.6V863.0H978.6zM1006.9 854.5H1012.5V863.0H1006.9zM1301.2 854.5H1306.9V863.0H1301.2zM689.9 846.0H695.6V854.5H689.9zM791.8 846.0H797.5V854.5H791.8zM1018.2 846.0H1023.9V854.5H1018.2zM791.8 837.5H797.5V846.0H791.8zM1001.2 837.5H1018.2V846.0H1001.2zM661.6 829.0H667.3V837.5H661.6zM689.9 829.0H695.6V837.5H689.9zM808.8 829.0H814.4V837.5H808.8zM967.3 829.0H972.9V837.5H967.3zM1001.2 829.0H1006.9V837.5H1001.2zM1018.2 829.0H1023.9V837.5H1018.2zM689.9 820.5H695.6V829.0H689.9zM769.2 820.5H774.8V829.0H769.2zM961.6 820.5H972.9V829.0H961.6zM989.9 820.5H995.6V829.0H989.9zM803.1 812.0H808.8V820.5H803.1zM972.9 812.0H978.6V820.5H972.9zM791.8 803.5H797.5V812.0H791.8zM978.6 803.5H989.9V812.0H978.6zM684.3 795.0H689.9V803.5H684.3zM803.1 795.0H808.8V803.5H803.1zM967.3 795.0H972.9V803.5H967.3zM1001.2 795.0H1006.9V803.5H1001.2zM989.9 786.5H995.6V795.0H989.9zM1001.2 786.5H1006.9V795.0H1001.2zM684.3 778.0H689.9V786.5H684.3zM752.2 778.0H763.5V786.5H752.2zM967.3 778.0H978.6V786.5H967.3zM757.8 769.5H763.5V778.0H757.8zM989.9 769.5H995.6V778.0H989.9zM791.8 761.0H797.5V769.5H791.8zM967.3 761.0H972.9V769.5H967.3zM1001.2 761.0H1006.9V769.5H1001.2zM955.9 752.5H961.6V761.0H955.9zM967.3 752.5H972.9V761.0H967.3zM978.6 752.5H984.2V761.0H978.6zM989.9 752.5H995.6V761.0H989.9zM661.6 744.0H667.3V752.5H661.6zM955.9 744.0H961.6V752.5H955.9zM967.3 744.0H972.9V752.5H967.3zM622.0 735.5H627.7V744.0H622.0zM735.2 735.5H740.9V744.0H735.2zM1001.2 735.5H1006.9V744.0H1001.2zM622.0 727.0H627.7V735.5H622.0zM955.9 727.0H961.6V735.5H955.9zM757.8 718.5H763.5V727.0H757.8zM955.9 718.5H961.6V727.0H955.9zM989.9 718.5H995.6V727.0H989.9zM972.9 710.0H978.6V718.5H972.9zM989.9 710.0H995.6V718.5H989.9zM582.4 701.5H588.0V710.0H582.4zM633.3 701.5H639.0V710.0H633.3zM689.9 701.5H695.6V710.0H689.9zM978.6 701.5H984.2V710.0H978.6zM644.6 693.0H650.3V701.5H644.6zM689.9 693.0H695.6V701.5H689.9zM955.9 693.0H961.6V701.5H955.9zM978.6 693.0H984.2V701.5H978.6zM633.3 684.5H639.0V693.0H633.3zM656.0 684.5H667.3V693.0H656.0zM752.2 684.5H757.8V693.0H752.2zM984.2 684.5H989.9V693.0H984.2zM939.0 676.0H944.6V684.5H939.0zM978.6 676.0H984.2V684.5H978.6zM1001.2 676.0H1006.9V684.5H1001.2zM752.2 667.5H757.8V676.0H752.2zM944.6 667.5H950.3V676.0H944.6zM644.6 659.0H650.3V667.5H644.6zM944.6 659.0H950.3V667.5H944.6zM593.7 650.5H599.4V659.0H593.7zM706.9 650.5H712.6V659.0H706.9zM995.6 650.5H1006.9V659.0H995.6zM729.5 642.0H735.2V650.5H729.5zM757.8 642.0H763.5V650.5H757.8zM961.6 642.0H967.3V650.5H961.6zM955.9 633.5H961.6V642.0H955.9zM1006.9 633.5H1012.5V642.0H1006.9zM627.7 625.0H633.3V633.5H627.7zM735.2 625.0H740.9V633.5H735.2zM757.8 625.0H763.5V633.5H757.8zM955.9 625.0H961.6V633.5H955.9zM582.4 616.5H588.0V625.0H582.4zM599.4 616.5H605.0V625.0H599.4zM735.2 616.5H740.9V625.0H735.2zM599.4 608.0H605.0V616.5H599.4zM735.2 608.0H740.9V616.5H735.2zM752.2 608.0H757.8V616.5H752.2zM955.9 608.0H967.3V616.5H955.9zM576.7 599.5H588.0V608.0H576.7zM599.4 599.5H605.0V608.0H599.4zM961.6 599.5H967.3V608.0H961.6zM588.0 591.0H605.0V599.5H588.0zM757.8 591.0H763.5V599.5H757.8zM1199.3 591.0H1205.0V599.5H1199.3zM661.6 582.5H667.3V591.0H661.6zM735.2 582.5H740.9V591.0H735.2zM593.7 574.0H599.4V582.5H593.7zM939.0 574.0H944.6V582.5H939.0zM593.7 565.5H599.4V574.0H593.7zM627.7 565.5H633.3V574.0H627.7zM650.3 565.5H656.0V574.0H650.3zM661.6 565.5H667.3V574.0H661.6zM735.2 565.5H740.9V574.0H735.2zM746.5 565.5H752.2V574.0H746.5zM593.7 557.0H599.4V565.5H593.7zM661.6 557.0H667.3V565.5H661.6zM939.0 557.0H944.6V565.5H939.0zM650.3 548.5H656.0V557.0H650.3zM757.8 548.5H763.5V557.0H757.8zM939.0 548.5H944.6V557.0H939.0zM684.3 540.0H689.9V548.5H684.3zM729.5 540.0H740.9V548.5H729.5zM757.8 540.0H763.5V548.5H757.8zM752.2 531.5H757.8V540.0H752.2zM684.3 523.0H695.6V531.5H684.3zM712.6 523.0H718.2V531.5H712.6zM752.2 523.0H757.8V531.5H752.2zM593.7 506.0H599.4V514.5H593.7zM712.6 506.0H718.2V514.5H712.6zM735.2 506.0H740.9V514.5H735.2zM757.8 506.0H763.5V514.5H757.8zM735.2 497.5H740.9V506.0H735.2zM757.8 497.5H763.5V506.0H757.8zM723.9 489.0H735.2V497.5H723.9zM723.9 480.5H729.5V489.0H723.9zM752.2 480.5H757.8V489.0H752.2zM752.2 472.0H757.8V480.5H752.2zM893.7 472.0H899.3V480.5H893.7zM939.0 472.0H944.6V480.5H939.0zM735.2 463.5H740.9V472.0H735.2zM752.2 463.5H757.8V472.0H752.2zM854.1 463.5H859.7V472.0H854.1zM950.3 463.5H955.9V472.0H950.3zM859.7 455.0H865.4V463.5H859.7zM820.1 438.0H825.8V446.5H820.1zM859.7 438.0H865.4V446.5H859.7zM757.8 421.0H763.5V429.5H757.8zM757.8 412.5H763.5V421.0H757.8zM740.9 378.5H746.5V387.0H740.9zM746.5 344.5H757.8V353.0H746.5zM888.0 166.0H893.7V174.5H888.0zM882.4 149.0H893.7V157.5H882.4z"/>
<path fill="#0000c0" d="M746.5 1160.5H752.2V1169.0H746.5zM972.9 1160.5H978.6V1169.0H972.9zM1199.3 1160.5H1205.0V1169.0H1199.3zM486.2 1152.0H491.8V1160.5H486.2zM1057.8 1152.0H1063.5V1160.5H1057.8zM910.7 1118.0H916.3V1126.5H910.7zM1222.0 1118.0H1227.6V1126.5H1222.0zM910.7 1109.5H916.3V1118.0H910.7zM1216.3 1109.5H1222.0V1118.0H1216.3zM910.7 1084.0H916.3V1092.5H910.7zM1272.9 1067.0H1278.6V1075.5H1272.9zM1046.5 1058.5H1052.2V1067.0H1046.5zM1029.5 1041.5H1035.2V1050.0H1029.5zM1159.7 1041.5H1165.4V1050.0H1159.7zM1006.9 1024.5H1012.5V1033.0H1006.9zM1023.9 1024.5H1029.5V1033.0H1023.9zM1006.9 1007.5H1012.5V1016.0H1006.9zM1352.1 1007.5H1357.8V1016.0H1352.1zM1074.8 999.0H1080.5V1007.5H1074.8zM1040.8 973.5H1046.5V982.0H1040.8zM1018.2 931.0H1029.5V939.5H1018.2zM1306.9 837.5H1312.5V846.0H1306.9zM1006.9 778.0H1012.5V786.5H1006.9zM1006.9 735.5H1012.5V744.0H1006.9zM989.9 701.5H995.6V710.0H989.9zM989.9 693.0H995.6V701.5H989.9zM633.3 676.0H639.0V684.5H633.3zM955.9 667.5H961.6V676.0H955.9zM644.6 633.5H650.3V642.0H644.6zM944.6 591.0H950.3V599.5H944.6zM633.3 557.0H639.0V565.5H633.3zM695.6 557.0H701.2V565.5H695.6zM939.0 438.0H944.6V446.5H939.0z"/>
<path fill="#40ffc0" d="M825.8 1160.5H831.4V1169.0H825.8zM1267.2 1160.5H1272.9V1169.0H1267.2zM1278.6 1160.5H1284.2V1169.0H1278.6zM1289.9 1160.5H1295.5V1169.0H1289.9zM1278.6 1152.0H1284.2V1160.5H1278.6zM1289.9 1152.0H1295.5V1160.5H1289.9zM389.9 1143.5H395.6V1152.0H389.9zM1272.9 1143.5H1278.6V1152.0H1272.9zM1289.9 1143.5H1295.5V1152.0H1289.9zM842.7 1135.0H848.4V1143.5H842.7zM995.6 1135.0H1001.2V1143.5H995.6zM1289.9 1135.0H1295.5V1143.5H1289.9zM927.6 1126.5H933.3V1135.0H927.6zM967.3 1126.5H972.9V1135.0H967.3zM1289.9 1126.5H1295.5V1135.0H1289.9zM1306.9 1126.5H1312.5V1135.0H1306.9zM1318.2 1126.5H1329.5V1135.0H1318.2zM1346.5 1126.5H1357.8V1135.0H1346.5zM927.6 1118.0H933.3V1126.5H927.6zM1289.9 1118.0H1301.2V1126.5H1289.9zM1318.2 1118.0H1323.8V1126.5H1318.2zM1329.5 1118.0H1346.5V1126.5H1329.5zM1352.1 1118.0H1357.8V1126.5H1352.1zM933.3 1109.5H939.0V1118.0H933.3zM1289.9 1109.5H1301.2V1118.0H1289.9zM1318.2 1109.5H1323.8V1118.0H1318.2zM1329.5 1109.5H1352.1V1118.0H1329.5zM916.3 1101.0H927.6V1109.5H916.3zM1295.5 1101.0H1301.2V1109.5H1295.5zM1335.2 1101.0H1340.8V1109.5H1335.2zM1357.8 1101.0H1363.5V1109.5H1357.8zM1295.5 1092.5H1306.9V1101.0H1295.5zM1363.5 1092.5H1371.0V1101.0H1363.5zM871.0 1084.0H876.7V1092.5H871.0zM1295.5 1084.0H1301.2V1092.5H1295.5zM871.0 1075.5H876.7V1084.0H871.0zM1295.5 1075.5H1301.2V1084.0H1295.5zM1295.5 1067.0H1301.2V1075.5H1295.5zM1295.5 1058.5H1306.9V1067.0H1295.5zM944.6 1024.5H950.3V1033.0H944.6zM944.6 1016.0H950.3V1024.5H944.6zM944.6 1007.5H950.3V1016.0H944.6zM944.6 990.5H950.3V999.0H944.6zM842.7 982.0H848.4V990.5H842.7zM939.0 982.0H944.6V990.5H939.0zM978.6 982.0H984.2V990.5H978.6zM876.7 973.5H882.4V982.0H876.7zM939.0 973.5H944.6V982.0H939.0zM961.6 973.5H967.3V982.0H961.6zM882.4 965.0H888.0V973.5H882.4zM939.0 965.0H944.6V973.5H939.0zM967.3 965.0H972.9V973.5H967.3zM848.4 956.5H854.1V965.0H848.4zM888.0 956.5H893.7V965.0H888.0zM939.0 956.5H950.3V965.0H939.0zM967.3 956.5H972.9V965.0H967.3zM876.7 948.0H882.4V956.5H876.7zM939.0 948.0H950.3V956.5H939.0zM825.8 939.5H831.4V948.0H825.8zM882.4 939.5H888.0V948.0H882.4zM939.0 939.5H944.6V948.0H939.0zM825.8 931.0H848.4V939.5H825.8zM876.7 931.0H882.4V939.5H876.7zM888.0 931.0H893.7V939.5H888.0zM939.0 931.0H950.3V939.5H939.0zM825.8 922.5H859.7V931.0H825.8zM876.7 922.5H882.4V931.0H876.7zM888.0 922.5H893.7V931.0H888.0zM939.0 922.5H950.3V931.0H939.0zM825.8 914.0H848.4V922.5H825.8zM854.1 914.0H859.7V922.5H854.1zM876.7 914.0H882.4V922.5H876.7zM888.0 914.0H893.7V922.5H888.0zM944.6 914.0H950.3V922.5H944.6zM825.8 905.5H831.4V914.0H825.8zM837.1 905.5H854.1V914.0H837.1zM888.0 905.5H905.0V914.0H888.0zM825.8 897.0H831.4V905.5H825.8zM848.4 897.0H854.1V905.5H848.4zM893.7 897.0H899.3V905.5H893.7zM905.0 897.0H910.7V905.5H905.0zM961.6 897.0H967.3V905.5H961.6zM825.8 888.5H831.4V897.0H825.8zM837.1 888.5H842.7V897.0H837.1zM876.7 888.5H882.4V897.0H876.7zM888.0 888.5H910.7V897.0H888.0zM825.8 880.0H831.4V888.5H825.8zM842.7 880.0H848.4V888.5H842.7zM876.7 880.0H882.4V888.5H876.7zM893.7 880.0H910.7V888.5H893.7zM825.8 871.5H831.4V880.0H825.8zM837.1 871.5H848.4V880.0H837.1zM859.7 871.5H865.4V880.0H859.7zM893.7 871.5H910.7V880.0H893.7zM989.9 871.5H995.6V880.0H989.9zM825.8 863.0H831.4V871.5H825.8zM837.1 863.0H842.7V871.5H837.1zM848.4 863.0H854.1V871.5H848.4zM893.7 863.0H910.7V871.5H893.7zM939.0 863.0H944.6V871.5H939.0zM825.8 854.5H831.4V863.0H825.8zM837.1 854.5H842.7V863.0H837.1zM893.7 854.5H916.3V863.0H893.7zM922.0 854.5H927.6V863.0H922.0zM939.0 854.5H944.6V863.0H939.0zM825.8 846.0H831.4V854.5H825.8zM837.1 846.0H848.4V854.5H837.1zM905.0 846.0H916.3V854.5H905.0zM939.0 846.0H944.6V854.5H939.0zM774.8 837.5H780.5V846.0H774.8zM797.5 837.5H803.1V846.0H797.5zM899.3 837.5H910.7V846.0H899.3zM939.0 837.5H944.6V846.0H939.0zM797.5 829.0H803.1V837.5H797.5zM814.4 829.0H825.8V837.5H814.4zM888.0 829.0H893.7V837.5H888.0zM899.3 829.0H916.3V837.5H899.3zM939.0 829.0H944.6V837.5H939.0zM763.5 820.5H769.2V829.0H763.5zM774.8 820.5H786.1V829.0H774.8zM797.5 820.5H803.1V829.0H797.5zM820.1 820.5H825.8V829.0H820.1zM893.7 820.5H905.0V829.0H893.7zM939.0 820.5H944.6V829.0H939.0zM763.5 812.0H769.2V820.5H763.5zM780.5 812.0H786.1V820.5H780.5zM820.1 812.0H825.8V820.5H820.1zM893.7 812.0H905.0V820.5H893.7zM944.6 812.0H950.3V820.5H944.6zM786.1 803.5H791.8V812.0H786.1zM814.4 803.5H825.8V812.0H814.4zM893.7 803.5H899.3V812.0H893.7zM939.0 803.5H950.3V812.0H939.0zM786.1 795.0H791.8V803.5H786.1zM820.1 795.0H825.8V803.5H820.1zM927.6 795.0H933.3V803.5H927.6zM939.0 795.0H950.3V803.5H939.0zM763.5 786.5H769.2V795.0H763.5zM786.1 786.5H791.8V795.0H786.1zM814.4 786.5H825.8V795.0H814.4zM939.0 786.5H950.3V795.0H939.0zM763.5 778.0H769.2V786.5H763.5zM786.1 778.0H791.8V786.5H786.1zM808.8 778.0H825.8V786.5H808.8zM939.0 778.0H944.6V786.5H939.0zM950.3 778.0H955.9V786.5H950.3zM763.5 769.5H769.2V778.0H763.5zM820.1 769.5H825.8V778.0H820.1zM939.0 769.5H955.9V778.0H939.0zM814.4 761.0H820.1V769.5H814.4zM939.0 761.0H955.9V769.5H939.0zM763.5 752.5H769.2V761.0H763.5zM814.4 752.5H820.1V761.0H814.4zM769.2 744.0H774.8V752.5H769.2zM814.4 744.0H820.1V752.5H814.4zM803.1 735.5H808.8V744.0H803.1zM814.4 735.5H820.1V744.0H814.4zM639.0 727.0H644.6V735.5H639.0zM803.1 727.0H808.8V735.5H803.1zM961.6 727.0H967.3V735.5H961.6zM763.5 718.5H769.2V727.0H763.5zM803.1 718.5H808.8V727.0H803.1zM961.6 718.5H967.3V727.0H961.6zM814.4 710.0H820.1V718.5H814.4zM961.6 710.0H967.3V718.5H961.6zM639.0 701.5H644.6V710.0H639.0zM814.4 701.5H820.1V710.0H814.4zM639.0 693.0H644.6V701.5H639.0zM803.1 693.0H808.8V701.5H803.1zM944.6 693.0H950.3V701.5H944.6zM639.0 684.5H644.6V693.0H639.0zM786.1 676.0H791.8V684.5H786.1zM944.6 676.0H950.3V684.5H944.6zM656.0 667.5H661.6V676.0H656.0zM763.5 667.5H769.2V676.0H763.5zM791.8 667.5H797.5V676.0H791.8zM639.0 659.0H644.6V667.5H639.0zM786.1 659.0H791.8V667.5H786.1zM786.1 650.5H797.5V659.0H786.1zM803.1 650.5H808.8V659.0H803.1zM639.0 642.0H644.6V650.5H639.0zM786.1 642.0H797.5V650.5H786.1zM803.1 642.0H808.8V650.5H803.1zM616.3 633.5H622.0V642.0H616.3zM689.9 633.5H695.6V642.0H689.9zM791.8 633.5H797.5V642.0H791.8zM803.1 633.5H808.8V642.0H803.1zM814.4 633.5H820.1V642.0H814.4zM803.1 625.0H808.8V633.5H803.1zM814.4 625.0H820.1V633.5H814.4zM939.0 625.0H944.6V633.5H939.0zM622.0 616.5H627.7V625.0H622.0zM656.0 616.5H661.6V625.0H656.0zM808.8 616.5H814.4V625.0H808.8zM622.0 608.0H627.7V616.5H622.0zM808.8 608.0H814.4V616.5H808.8zM944.6 608.0H950.3V616.5H944.6zM622.0 599.5H627.7V608.0H622.0zM808.8 599.5H814.4V608.0H808.8zM622.0 591.0H627.7V599.5H622.0zM808.8 591.0H814.4V599.5H808.8zM831.4 591.0H837.1V599.5H831.4zM605.0 582.5H610.7V591.0H605.0zM723.9 582.5H729.5V591.0H723.9zM820.1 582.5H825.8V591.0H820.1zM893.7 582.5H916.3V591.0H893.7zM820.1 574.0H825.8V582.5H820.1zM893.7 574.0H899.3V582.5H893.7zM905.0 574.0H916.3V582.5H905.0zM616.3 565.5H622.0V574.0H616.3zM689.9 565.5H695.6V574.0H689.9zM791.8 565.5H797.5V574.0H791.8zM808.8 565.5H814.4V574.0H808.8zM831.4 565.5H837.1V574.0H831.4zM933.3 565.5H939.0V574.0H933.3zM803.1 557.0H820.1V565.5H803.1zM842.7 557.0H848.4V565.5H842.7zM859.7 557.0H865.4V565.5H859.7zM933.3 557.0H939.0V565.5H933.3zM763.5 548.5H774.8V557.0H763.5zM803.1 548.5H808.8V557.0H803.1zM814.4 548.5H820.1V557.0H814.4zM763.5 540.0H774.8V548.5H763.5zM791.8 540.0H797.5V548.5H791.8zM814.4 540.0H820.1V548.5H814.4zM893.7 540.0H899.3V548.5H893.7zM922.0 540.0H927.6V548.5H922.0zM763.5 531.5H774.8V540.0H763.5zM791.8 531.5H797.5V540.0H791.8zM814.4 531.5H820.1V540.0H814.4zM791.8 523.0H797.5V531.5H791.8zM808.8 523.0H814.4V531.5H808.8zM905.0 523.0H910.7V531.5H905.0zM791.8 514.5H797.5V523.0H791.8zM808.8 514.5H820.1V523.0H808.8zM905.0 514.5H910.7V523.0H905.0zM927.6 514.5H933.3V523.0H927.6zM803.1 506.0H808.8V514.5H803.1zM814.4 506.0H820.1V514.5H814.4zM893.7 506.0H899.3V514.5H893.7zM723.9 497.5H729.5V506.0H723.9zM803.1 497.5H808.8V506.0H803.1zM888.0 497.5H893.7V506.0H888.0zM882.4 489.0H888.0V497.5H882.4zM933.3 489.0H939.0V497.5H933.3zM955.9 489.0H961.6V497.5H955.9zM740.9 480.5H746.5V489.0H740.9zM791.8 480.5H797.5V489.0H791.8zM876.7 480.5H882.4V489.0H876.7zM791.8 472.0H797.5V480.5H791.8zM825.8 472.0H831.4V480.5H825.8zM848.4 472.0H859.7V480.5H848.4zM865.4 472.0H871.0V480.5H865.4zM910.7 472.0H916.3V480.5H910.7zM791.8 463.5H797.5V472.0H791.8zM825.8 463.5H831.4V472.0H825.8zM910.7 463.5H916.3V472.0H910.7zM939.0 463.5H950.3V472.0H939.0zM791.8 455.0H797.5V463.5H791.8zM893.7 455.0H899.3V463.5H893.7zM939.0 455.0H944.6V463.5H939.0zM769.2 446.5H774.8V455.0H769.2zM791.8 446.5H797.5V455.0H791.8zM865.4 446.5H876.7V455.0H865.4zM927.6 446.5H944.6V455.0H927.6zM786.1 438.0H791.8V446.5H786.1zM791.8 429.5H797.5V438.0H791.8zM910.7 429.5H922.0V438.0H910.7zM786.1 421.0H791.8V429.5H786.1zM837.1 421.0H848.4V429.5H837.1zM899.3 421.0H905.0V429.5H899.3zM740.9 412.5H746.5V421.0H740.9zM837.1 412.5H854.1V421.0H837.1zM848.4 404.0H859.7V412.5H848.4zM865.4 404.0H876.7V412.5H865.4zM876.7 395.5H882.4V404.0H876.7zM763.5 336.0H769.2V344.5H763.5zM825.8 336.0H831.4V344.5H825.8zM876.7 191.5H882.4V200.0H876.7zM876.7 115.0H882.4V123.5H876.7z"/>
<path fill="#90ff70" d="M1295.5 1160.5H1306.9V1169.0H1295.5zM1318.2 1160.5H1323.8V1169.0H1318.2zM1340.8 1160.5H1346.5V1169.0H1340.8zM1357.8 1160.5H1363.5V1169.0H1357.8zM1267.2 1152.0H1272.9V1160.5H1267.2zM1295.5 1152.0H1306.9V1160.5H1295.5zM1312.5 1152.0H1323.8V1160.5H1312.5zM1329.5 1152.0H1335.2V1160.5H1329.5zM1357.8 1152.0H1363.5V1160.5H1357.8zM1295.5 1143.5H1301.2V1152.0H1295.5zM1295.5 1135.0H1301.2V1143.5H1295.5zM1306.9 1135.0H1312.5V1143.5H1306.9zM1318.2 1135.0H1357.8V1143.5H1318.2zM1295.5 1126.5H1301.2V1135.0H1295.5zM1357.8 1126.5H1363.5V1135.0H1357.8zM1357.8 1118.0H1363.5V1126.5H1357.8zM1357.8 1109.5H1363.5V1118.0H1357.8zM1363.5 1101.0H1371.0V1109.5H1363.5zM882.4 1092.5H888.0V1101.0H882.4zM944.6 1092.5H950.3V1101.0H944.6zM882.4 1084.0H888.0V1092.5H882.4zM927.6 1067.0H939.0V1075.5H927.6zM916.3 1058.5H922.0V1067.0H916.3zM927.6 1058.5H939.0V1067.0H927.6zM933.3 1033.0H939.0V1041.5H933.3zM984.2 1033.0H989.9V1041.5H984.2zM916.3 1024.5H922.0V1033.0H916.3zM927.6 1024.5H939.0V1033.0H927.6zM916.3 1016.0H922.0V1024.5H916.3zM927.6 1016.0H939.0V1024.5H927.6zM916.3 1007.5H939.0V1016.0H916.3zM927.6 999.0H933.3V1007.5H927.6zM922.0 982.0H939.0V990.5H922.0zM927.6 973.5H933.3V982.0H927.6zM865.4 965.0H871.0V973.5H865.4zM922.0 965.0H927.6V973.5H922.0zM922.0 956.5H927.6V965.0H922.0zM882.4 948.0H888.0V956.5H882.4zM859.7 939.5H865.4V948.0H859.7zM944.6 939.5H950.3V948.0H944.6zM848.4 931.0H859.7V939.5H848.4zM871.0 931.0H876.7V939.5H871.0zM882.4 931.0H888.0V939.5H882.4zM859.7 922.5H876.7V931.0H859.7zM882.4 922.5H888.0V931.0H882.4zM922.0 922.5H927.6V931.0H922.0zM848.4 914.0H854.1V922.5H848.4zM859.7 914.0H865.4V922.5H859.7zM882.4 914.0H888.0V922.5H882.4zM922.0 914.0H933.3V922.5H922.0zM939.0 914.0H944.6V922.5H939.0zM854.1 905.5H871.0V914.0H854.1zM876.7 905.5H888.0V914.0H876.7zM922.0 905.5H927.6V914.0H922.0zM837.1 897.0H848.4V905.5H837.1zM859.7 897.0H865.4V905.5H859.7zM871.0 897.0H893.7V905.5H871.0zM922.0 897.0H933.3V905.5H922.0zM842.7 888.5H876.7V897.0H842.7zM882.4 888.5H888.0V897.0H882.4zM922.0 888.5H927.6V897.0H922.0zM837.1 880.0H842.7V888.5H837.1zM848.4 880.0H854.1V888.5H848.4zM859.7 880.0H876.7V888.5H859.7zM888.0 880.0H893.7V888.5H888.0zM922.0 880.0H933.3V888.5H922.0zM848.4 871.5H854.1V880.0H848.4zM865.4 871.5H893.7V880.0H865.4zM922.0 871.5H933.3V880.0H922.0zM854.1 863.0H876.7V871.5H854.1zM882.4 863.0H893.7V871.5H882.4zM922.0 863.0H933.3V871.5H922.0zM842.7 854.5H854.1V863.0H842.7zM859.7 854.5H871.0V863.0H859.7zM876.7 854.5H882.4V863.0H876.7zM888.0 854.5H893.7V863.0H888.0zM927.6 854.5H933.3V863.0H927.6zM848.4 846.0H865.4V854.5H848.4zM876.7 846.0H882.4V854.5H876.7zM888.0 846.0H893.7V854.5H888.0zM922.0 846.0H927.6V854.5H922.0zM825.8 837.5H831.4V846.0H825.8zM837.1 837.5H842.7V846.0H837.1zM848.4 837.5H854.1V846.0H848.4zM888.0 837.5H893.7V846.0H888.0zM910.7 837.5H916.3V846.0H910.7zM922.0 837.5H927.6V846.0H922.0zM825.8 829.0H837.1V837.5H825.8zM854.1 829.0H859.7V837.5H854.1zM922.0 829.0H933.3V837.5H922.0zM831.4 820.5H837.1V829.0H831.4zM859.7 820.5H865.4V829.0H859.7zM888.0 820.5H893.7V829.0H888.0zM905.0 820.5H910.7V829.0H905.0zM922.0 820.5H927.6V829.0H922.0zM774.8 812.0H780.5V820.5H774.8zM797.5 812.0H803.1V820.5H797.5zM831.4 812.0H842.7V820.5H831.4zM848.4 812.0H854.1V820.5H848.4zM888.0 812.0H893.7V820.5H888.0zM905.0 812.0H910.7V820.5H905.0zM922.0 812.0H933.3V820.5H922.0zM774.8 803.5H786.1V812.0H774.8zM797.5 803.5H803.1V812.0H797.5zM842.7 803.5H848.4V812.0H842.7zM871.0 803.5H876.7V812.0H871.0zM899.3 803.5H910.7V812.0H899.3zM927.6 803.5H939.0V812.0H927.6zM774.8 795.0H786.1V803.5H774.8zM797.5 795.0H803.1V803.5H797.5zM831.4 795.0H837.1V803.5H831.4zM893.7 795.0H910.7V803.5H893.7zM933.3 795.0H939.0V803.5H933.3zM780.5 786.5H786.1V795.0H780.5zM797.5 786.5H803.1V795.0H797.5zM842.7 786.5H848.4V795.0H842.7zM899.3 786.5H910.7V795.0H899.3zM933.3 786.5H939.0V795.0H933.3zM950.3 786.5H955.9V795.0H950.3zM774.8 778.0H786.1V786.5H774.8zM797.5 778.0H803.1V786.5H797.5zM905.0 778.0H910.7V786.5H905.0zM933.3 778.0H939.0V786.5H933.3zM944.6 778.0H950.3V786.5H944.6zM774.8 769.5H791.8V778.0H774.8zM797.5 769.5H803.1V778.0H797.5zM933.3 769.5H939.0V778.0H933.3zM763.5 761.0H769.2V769.5H763.5zM774.8 761.0H791.8V769.5H774.8zM797.5 761.0H803.1V769.5H797.5zM808.8 761.0H814.4V769.5H808.8zM820.1 761.0H825.8V769.5H820.1zM933.3 761.0H939.0V769.5H933.3zM786.1 752.5H791.8V761.0H786.1zM808.8 752.5H814.4V761.0H808.8zM944.6 752.5H955.9V761.0H944.6zM763.5 744.0H769.2V752.5H763.5zM774.8 744.0H786.1V752.5H774.8zM808.8 744.0H814.4V752.5H808.8zM893.7 744.0H899.3V752.5H893.7zM944.6 744.0H955.9V752.5H944.6zM763.5 735.5H769.2V744.0H763.5zM774.8 735.5H780.5V744.0H774.8zM786.1 735.5H791.8V744.0H786.1zM944.6 735.5H955.9V744.0H944.6zM763.5 727.0H769.2V735.5H763.5zM786.1 727.0H797.5V735.5H786.1zM814.4 727.0H820.1V735.5H814.4zM933.3 727.0H939.0V735.5H933.3zM786.1 718.5H797.5V727.0H786.1zM814.4 718.5H820.1V727.0H814.4zM910.7 718.5H916.3V727.0H910.7zM933.3 718.5H939.0V727.0H933.3zM786.1 710.0H797.5V718.5H786.1zM803.1 710.0H814.4V718.5H803.1zM831.4 710.0H837.1V718.5H831.4zM933.3 710.0H939.0V718.5H933.3zM769.2 701.5H774.8V710.0H769.2zM786.1 701.5H797.5V710.0H786.1zM803.1 701.5H808.8V710.0H803.1zM910.7 701.5H916.3V710.0H910.7zM961.6 701.5H967.3V710.0H961.6zM769.2 693.0H774.8V701.5H769.2zM786.1 693.0H797.5V701.5H786.1zM814.4 693.0H820.1V701.5H814.4zM910.7 693.0H916.3V701.5H910.7zM933.3 693.0H939.0V701.5H933.3zM961.6 693.0H967.3V701.5H961.6zM769.2 684.5H774.8V693.0H769.2zM791.8 684.5H797.5V693.0H791.8zM803.1 684.5H808.8V693.0H803.1zM814.4 684.5H820.1V693.0H814.4zM933.3 684.5H939.0V693.0H933.3zM944.6 684.5H950.3V693.0H944.6zM961.6 684.5H967.3V693.0H961.6zM639.0 676.0H644.6V684.5H639.0zM769.2 676.0H774.8V684.5H769.2zM791.8 676.0H797.5V684.5H791.8zM803.1 676.0H808.8V684.5H803.1zM814.4 676.0H820.1V684.5H814.4zM933.3 676.0H939.0V684.5H933.3zM780.5 667.5H786.1V676.0H780.5zM803.1 667.5H808.8V676.0H803.1zM814.4 667.5H820.1V676.0H814.4zM933.3 667.5H939.0V676.0H933.3zM763.5 659.0H769.2V667.5H763.5zM780.5 659.0H786.1V667.5H780.5zM803.1 659.0H808.8V667.5H803.1zM814.4 659.0H820.1V667.5H814.4zM933.3 659.0H939.0V667.5H933.3zM769.2 650.5H774.8V659.0H769.2zM797.5 650.5H803.1V659.0H797.5zM808.8 650.5H820.1V659.0H808.8zM933.3 650.5H939.0V659.0H933.3zM616.3 642.0H622.0V650.5H616.3zM769.2 642.0H774.8V650.5H769.2zM797.5 642.0H803.1V650.5H797.5zM808.8 642.0H820.1V650.5H808.8zM910.7 642.0H916.3V650.5H910.7zM786.1 633.5H791.8V642.0H786.1zM797.5 633.5H803.1V642.0H797.5zM808.8 633.5H814.4V642.0H808.8zM910.7 633.5H916.3V642.0H910.7zM780.5 625.0H791.8V633.5H780.5zM797.5 625.0H803.1V633.5H797.5zM808.8 625.0H814.4V633.5H808.8zM910.7 625.0H916.3V633.5H910.7zM786.1 616.5H791.8V625.0H786.1zM797.5 616.5H803.1V625.0H797.5zM820.1 616.5H825.8V625.0H820.1zM831.4 616.5H837.1V625.0H831.4zM769.2 608.0H774.8V616.5H769.2zM786.1 608.0H791.8V616.5H786.1zM797.5 608.0H803.1V616.5H797.5zM820.1 608.0H825.8V616.5H820.1zM831.4 608.0H837.1V616.5H831.4zM769.2 599.5H774.8V608.0H769.2zM820.1 599.5H825.8V608.0H820.1zM831.4 599.5H837.1V608.0H831.4zM910.7 599.5H916.3V608.0H910.7zM927.6 599.5H939.0V608.0H927.6zM820.1 591.0H825.8V599.5H820.1zM837.1 591.0H842.7V599.5H837.1zM893.7 591.0H916.3V599.5H893.7zM639.0 582.5H644.6V591.0H639.0zM831.4 582.5H837.1V591.0H831.4zM831.4 574.0H837.1V582.5H831.4zM888.0 574.0H893.7V582.5H888.0zM899.3 574.0H905.0V582.5H899.3zM916.3 574.0H922.0V582.5H916.3zM774.8 565.5H780.5V574.0H774.8zM820.1 565.5H825.8V574.0H820.1zM837.1 565.5H848.4V574.0H837.1zM859.7 565.5H865.4V574.0H859.7zM888.0 565.5H893.7V574.0H888.0zM899.3 565.5H905.0V574.0H899.3zM786.1 557.0H797.5V565.5H786.1zM848.4 557.0H859.7V565.5H848.4zM871.0 557.0H876.7V565.5H871.0zM882.4 557.0H893.7V565.5H882.4zM927.6 557.0H933.3V565.5H927.6zM774.8 548.5H786.1V557.0H774.8zM791.8 548.5H797.5V557.0H791.8zM808.8 548.5H814.4V557.0H808.8zM848.4 548.5H865.4V557.0H848.4zM871.0 548.5H876.7V557.0H871.0zM882.4 548.5H893.7V557.0H882.4zM774.8 540.0H780.5V548.5H774.8zM786.1 540.0H791.8V548.5H786.1zM797.5 540.0H803.1V548.5H797.5zM808.8 540.0H814.4V548.5H808.8zM859.7 540.0H865.4V548.5H859.7zM774.8 531.5H780.5V540.0H774.8zM786.1 531.5H791.8V540.0H786.1zM797.5 531.5H803.1V540.0H797.5zM808.8 531.5H814.4V540.0H808.8zM910.7 531.5H916.3V540.0H910.7zM763.5 523.0H769.2V531.5H763.5zM780.5 523.0H786.1V531.5H780.5zM797.5 523.0H803.1V531.5H797.5zM910.7 523.0H916.3V531.5H910.7zM927.6 523.0H933.3V531.5H927.6zM740.9 514.5H746.5V523.0H740.9zM763.5 514.5H774.8V523.0H763.5zM786.1 514.5H791.8V523.0H786.1zM797.5 514.5H803.1V523.0H797.5zM910.7 514.5H916.3V523.0H910.7zM763.5 506.0H774.8V514.5H763.5zM780.5 506.0H803.1V514.5H780.5zM808.8 506.0H814.4V514.5H808.8zM899.3 506.0H905.0V514.5H899.3zM769.2 497.5H774.8V506.0H769.2zM786.1 497.5H803.1V506.0H786.1zM814.4 497.5H820.1V506.0H814.4zM769.2 489.0H774.8V497.5H769.2zM797.5 489.0H808.8V497.5H797.5zM814.4 489.0H820.1V497.5H814.4zM831.4 489.0H842.7V497.5H831.4zM769.2 480.5H780.5V489.0H769.2zM786.1 480.5H791.8V489.0H786.1zM797.5 480.5H808.8V489.0H797.5zM831.4 480.5H837.1V489.0H831.4zM848.4 480.5H854.1V489.0H848.4zM865.4 480.5H876.7V489.0H865.4zM944.6 480.5H950.3V489.0H944.6zM769.2 472.0H780.5V480.5H769.2zM786.1 472.0H791.8V480.5H786.1zM797.5 472.0H803.1V480.5H797.5zM769.2 463.5H780.5V472.0H769.2zM786.1 463.5H791.8V472.0H786.1zM797.5 463.5H803.1V472.0H797.5zM899.3 463.5H905.0V472.0H899.3zM769.2 455.0H780.5V463.5H769.2zM797.5 455.0H803.1V463.5H797.5zM888.0 455.0H893.7V463.5H888.0zM774.8 446.5H780.5V455.0H774.8zM797.5 446.5H803.1V455.0H797.5zM893.7 446.5H899.3V455.0H893.7zM769.2 438.0H774.8V446.5H769.2zM791.8 438.0H797.5V446.5H791.8zM876.7 438.0H882.4V446.5H876.7zM888.0 438.0H893.7V446.5H888.0zM910.7 438.0H916.3V446.5H910.7zM769.2 429.5H780.5V438.0H769.2zM786.1 429.5H791.8V438.0H786.1zM808.8 429.5H814.4V438.0H808.8zM854.1 429.5H882.4V438.0H854.1zM888.0 429.5H893.7V438.0H888.0zM899.3 429.5H910.7V438.0H899.3zM769.2 421.0H774.8V429.5H769.2zM859.7 421.0H865.4V429.5H859.7zM871.0 421.0H876.7V429.5H871.0zM882.4 421.0H893.7V429.5H882.4zM905.0 421.0H910.7V429.5H905.0zM769.2 412.5H774.8V421.0H769.2zM803.1 412.5H808.8V421.0H803.1zM854.1 412.5H876.7V421.0H854.1zM888.0 412.5H893.7V421.0H888.0zM769.2 404.0H780.5V412.5H769.2zM791.8 404.0H797.5V412.5H791.8zM842.7 404.0H848.4V412.5H842.7zM876.7 404.0H882.4V412.5H876.7zM769.2 395.5H780.5V404.0H769.2zM842.7 395.5H848.4V404.0H842.7zM769.2 387.0H780.5V395.5H769.2zM842.7 387.0H848.4V395.5H842.7zM791.8 378.5H797.5V387.0H791.8zM752.2 361.5H763.5V370.0H752.2zM763.5 353.0H769.2V361.5H763.5zM831.4 319.0H848.4V327.5H831.4z"/>
<path fill="#c8ff38" d="M1306.9 1160.5H1318.2V1169.0H1306.9zM1323.8 1160.5H1340.8V1169.0H1323.8zM1346.5 1160.5H1357.8V1169.0H1346.5zM1363.5 1160.5H1369.1V1169.0H1363.5zM1306.9 1152.0H1312.5V1160.5H1306.9zM1323.8 1152.0H1329.5V1160.5H1323.8zM1335.2 1152.0H1357.8V1160.5H1335.2zM1363.5 1152.0H1369.1V1160.5H1363.5zM1306.9 1143.5H1329.5V1152.0H1306.9zM1340.8 1143.5H1369.1V1152.0H1340.8zM1357.8 1135.0H1369.1V1143.5H1357.8zM1363.5 1126.5H1369.1V1135.0H1363.5zM1363.5 1118.0H1369.1V1126.5H1363.5zM1363.5 1109.5H1369.1V1118.0H1363.5zM916.3 1050.0H922.0V1058.5H916.3zM933.3 1050.0H939.0V1058.5H933.3zM916.3 1041.5H922.0V1050.0H916.3zM933.3 1041.5H939.0V1050.0H933.3zM916.3 1033.0H922.0V1041.5H916.3zM933.3 999.0H939.0V1007.5H933.3zM933.3 990.5H939.0V999.0H933.3zM933.3 973.5H939.0V982.0H933.3zM933.3 965.0H939.0V973.5H933.3zM933.3 956.5H939.0V965.0H933.3zM933.3 948.0H939.0V956.5H933.3zM854.1 939.5H859.7V948.0H854.1zM933.3 939.5H939.0V948.0H933.3zM859.7 931.0H865.4V939.5H859.7zM933.3 931.0H939.0V939.5H933.3zM933.3 922.5H939.0V931.0H933.3zM865.4 914.0H871.0V922.5H865.4zM933.3 914.0H939.0V922.5H933.3zM871.0 905.5H876.7V914.0H871.0zM933.3 905.5H939.0V914.0H933.3zM854.1 897.0H859.7V905.5H854.1zM865.4 897.0H871.0V905.5H865.4zM933.3 897.0H939.0V905.5H933.3zM933.3 888.5H939.0V897.0H933.3zM854.1 880.0H859.7V888.5H854.1zM882.4 880.0H888.0V888.5H882.4zM933.3 880.0H939.0V888.5H933.3zM854.1 871.5H859.7V880.0H854.1zM933.3 871.5H939.0V880.0H933.3zM876.7 863.0H882.4V871.5H876.7zM933.3 863.0H939.0V871.5H933.3zM871.0 854.5H876.7V863.0H871.0zM916.3 854.5H922.0V863.0H916.3zM933.3 854.5H939.0V863.0H933.3zM865.4 846.0H876.7V854.5H865.4zM927.6 846.0H939.0V854.5H927.6zM842.7 837.5H848.4V846.0H842.7zM854.1 837.5H882.4V846.0H854.1zM927.6 837.5H939.0V846.0H927.6zM837.1 829.0H854.1V837.5H837.1zM859.7 829.0H876.7V837.5H859.7zM933.3 829.0H939.0V837.5H933.3zM825.8 820.5H831.4V829.0H825.8zM837.1 820.5H859.7V829.0H837.1zM865.4 820.5H876.7V829.0H865.4zM910.7 820.5H916.3V829.0H910.7zM927.6 820.5H939.0V829.0H927.6zM825.8 812.0H831.4V820.5H825.8zM842.7 812.0H848.4V820.5H842.7zM859.7 812.0H871.0V820.5H859.7zM910.7 812.0H916.3V820.5H910.7zM933.3 812.0H939.0V820.5H933.3zM825.8 803.5H842.7V812.0H825.8zM848.4 803.5H865.4V812.0H848.4zM888.0 803.5H893.7V812.0H888.0zM910.7 803.5H916.3V812.0H910.7zM922.0 803.5H927.6V812.0H922.0zM825.8 795.0H831.4V803.5H825.8zM837.1 795.0H848.4V803.5H837.1zM859.7 795.0H876.7V803.5H859.7zM888.0 795.0H893.7V803.5H888.0zM910.7 795.0H916.3V803.5H910.7zM922.0 795.0H927.6V803.5H922.0zM774.8 786.5H780.5V795.0H774.8zM825.8 786.5H831.4V795.0H825.8zM837.1 786.5H842.7V795.0H837.1zM848.4 786.5H854.1V795.0H848.4zM865.4 786.5H876.7V795.0H865.4zM888.0 786.5H899.3V795.0H888.0zM910.7 786.5H916.3V795.0H910.7zM927.6 786.5H933.3V795.0H927.6zM831.4 778.0H854.1V786.5H831.4zM871.0 778.0H876.7V786.5H871.0zM888.0 778.0H905.0V786.5H888.0zM910.7 778.0H916.3V786.5H910.7zM927.6 778.0H933.3V786.5H927.6zM825.8 769.5H854.1V778.0H825.8zM859.7 769.5H865.4V778.0H859.7zM888.0 769.5H916.3V778.0H888.0zM927.6 769.5H933.3V778.0H927.6zM842.7 761.0H854.1V769.5H842.7zM888.0 761.0H916.3V769.5H888.0zM927.6 761.0H933.3V769.5H927.6zM774.8 752.5H786.1V761.0H774.8zM842.7 752.5H848.4V761.0H842.7zM859.7 752.5H865.4V761.0H859.7zM893.7 752.5H905.0V761.0H893.7zM927.6 752.5H939.0V761.0H927.6zM786.1 744.0H791.8V752.5H786.1zM842.7 744.0H848.4V752.5H842.7zM899.3 744.0H905.0V752.5H899.3zM927.6 744.0H939.0V752.5H927.6zM780.5 735.5H786.1V744.0H780.5zM808.8 735.5H814.4V744.0H808.8zM893.7 735.5H899.3V744.0H893.7zM927.6 735.5H939.0V744.0H927.6zM774.8 727.0H786.1V735.5H774.8zM837.1 727.0H842.7V735.5H837.1zM910.7 727.0H916.3V735.5H910.7zM927.6 727.0H933.3V735.5H927.6zM774.8 718.5H786.1V727.0H774.8zM927.6 718.5H933.3V727.0H927.6zM774.8 710.0H786.1V718.5H774.8zM910.7 710.0H916.3V718.5H910.7zM927.6 710.0H933.3V718.5H927.6zM763.5 701.5H769.2V710.0H763.5zM774.8 701.5H780.5V710.0H774.8zM927.6 701.5H939.0V710.0H927.6zM763.5 693.0H769.2V701.5H763.5zM927.6 693.0H933.3V701.5H927.6zM786.1 684.5H791.8V693.0H786.1zM910.7 684.5H916.3V693.0H910.7zM927.6 684.5H933.3V693.0H927.6zM763.5 676.0H769.2V684.5H763.5zM910.7 676.0H916.3V684.5H910.7zM786.1 667.5H791.8V676.0H786.1zM910.7 667.5H916.3V676.0H910.7zM791.8 659.0H797.5V667.5H791.8zM910.7 659.0H916.3V667.5H910.7zM910.7 650.5H916.3V659.0H910.7zM639.0 633.5H644.6V642.0H639.0zM769.2 633.5H774.8V642.0H769.2zM780.5 633.5H786.1V642.0H780.5zM927.6 633.5H939.0V642.0H927.6zM639.0 625.0H644.6V633.5H639.0zM769.2 625.0H774.8V633.5H769.2zM820.1 625.0H825.8V633.5H820.1zM831.4 625.0H837.1V633.5H831.4zM927.6 625.0H939.0V633.5H927.6zM616.3 616.5H622.0V625.0H616.3zM769.2 616.5H780.5V625.0H769.2zM899.3 616.5H916.3V625.0H899.3zM922.0 616.5H933.3V625.0H922.0zM639.0 608.0H644.6V616.5H639.0zM774.8 608.0H780.5V616.5H774.8zM899.3 608.0H916.3V616.5H899.3zM927.6 608.0H933.3V616.5H927.6zM639.0 599.5H644.6V608.0H639.0zM774.8 599.5H780.5V608.0H774.8zM797.5 599.5H803.1V608.0H797.5zM905.0 599.5H910.7V608.0H905.0zM639.0 591.0H644.6V599.5H639.0zM774.8 591.0H780.5V599.5H774.8zM797.5 591.0H803.1V599.5H797.5zM842.7 591.0H848.4V599.5H842.7zM888.0 591.0H893.7V599.5H888.0zM927.6 591.0H939.0V599.5H927.6zM774.8 582.5H780.5V591.0H774.8zM837.1 582.5H842.7V591.0H837.1zM859.7 582.5H865.4V591.0H859.7zM888.0 582.5H893.7V591.0H888.0zM916.3 582.5H922.0V591.0H916.3zM927.6 582.5H939.0V591.0H927.6zM774.8 574.0H780.5V582.5H774.8zM837.1 574.0H842.7V582.5H837.1zM859.7 574.0H865.4V582.5H859.7zM882.4 574.0H888.0V582.5H882.4zM922.0 574.0H939.0V582.5H922.0zM786.1 565.5H791.8V574.0H786.1zM825.8 565.5H831.4V574.0H825.8zM848.4 565.5H854.1V574.0H848.4zM876.7 565.5H888.0V574.0H876.7zM910.7 565.5H916.3V574.0H910.7zM774.8 557.0H780.5V565.5H774.8zM797.5 557.0H803.1V565.5H797.5zM820.1 557.0H825.8V565.5H820.1zM831.4 557.0H842.7V565.5H831.4zM865.4 557.0H871.0V565.5H865.4zM876.7 557.0H882.4V565.5H876.7zM786.1 548.5H791.8V557.0H786.1zM820.1 548.5H825.8V557.0H820.1zM865.4 548.5H871.0V557.0H865.4zM876.7 548.5H882.4V557.0H876.7zM922.0 548.5H933.3V557.0H922.0zM780.5 540.0H786.1V548.5H780.5zM820.1 540.0H825.8V548.5H820.1zM865.4 540.0H888.0V548.5H865.4zM899.3 540.0H905.0V548.5H899.3zM910.7 540.0H916.3V548.5H910.7zM927.6 540.0H933.3V548.5H927.6zM780.5 531.5H786.1V540.0H780.5zM893.7 531.5H899.3V540.0H893.7zM905.0 531.5H910.7V540.0H905.0zM927.6 531.5H933.3V540.0H927.6zM774.8 523.0H780.5V531.5H774.8zM786.1 523.0H791.8V531.5H786.1zM820.1 523.0H825.8V531.5H820.1zM774.8 514.5H786.1V523.0H774.8zM893.7 514.5H905.0V523.0H893.7zM774.8 506.0H780.5V514.5H774.8zM888.0 506.0H893.7V514.5H888.0zM763.5 497.5H769.2V506.0H763.5zM774.8 497.5H780.5V506.0H774.8zM808.8 497.5H814.4V506.0H808.8zM882.4 497.5H888.0V506.0H882.4zM763.5 489.0H769.2V497.5H763.5zM774.8 489.0H780.5V497.5H774.8zM786.1 489.0H791.8V497.5H786.1zM808.8 489.0H814.4V497.5H808.8zM814.4 480.5H820.1V489.0H814.4zM854.1 480.5H859.7V489.0H854.1zM803.1 472.0H808.8V480.5H803.1zM916.3 472.0H922.0V480.5H916.3zM803.1 463.5H808.8V472.0H803.1zM905.0 463.5H910.7V472.0H905.0zM803.1 455.0H808.8V463.5H803.1zM899.3 455.0H905.0V463.5H899.3zM910.7 455.0H916.3V463.5H910.7zM927.6 455.0H939.0V463.5H927.6zM803.1 446.5H808.8V455.0H803.1zM820.1 446.5H825.8V455.0H820.1zM910.7 446.5H916.3V455.0H910.7zM774.8 438.0H780.5V446.5H774.8zM905.0 438.0H910.7V446.5H905.0zM882.4 429.5H888.0V438.0H882.4zM780.5 421.0H786.1V429.5H780.5zM876.7 412.5H882.4V421.0H876.7zM842.7 310.5H848.4V319.0H842.7z"/>
<path fill="#ffff00" d="M1369.1 1160.5H1371.0V1169.0H1369.1zM1369.1 1152.0H1371.0V1160.5H1369.1zM1329.5 1143.5H1340.8V1152.0H1329.5zM1369.1 1143.5H1371.0V1152.0H1369.1zM1369.1 1135.0H1371.0V1143.5H1369.1zM1369.1 1126.5H1371.0V1135.0H1369.1zM1369.1 1118.0H1371.0V1126.5H1369.1zM1369.1 1109.5H1371.0V1118.0H1369.1zM916.3 999.0H922.0V1007.5H916.3zM916.3 990.5H922.0V999.0H916.3zM916.3 982.0H922.0V990.5H916.3zM916.3 973.5H922.0V982.0H916.3zM916.3 965.0H922.0V973.5H916.3zM916.3 956.5H922.0V965.0H916.3zM916.3 939.5H922.0V948.0H916.3zM916.3 931.0H922.0V939.5H916.3zM916.3 922.5H922.0V931.0H916.3zM916.3 914.0H922.0V922.5H916.3zM916.3 905.5H922.0V914.0H916.3zM916.3 897.0H922.0V905.5H916.3zM916.3 863.0H922.0V871.5H916.3zM882.4 854.5H888.0V863.0H882.4zM882.4 846.0H888.0V854.5H882.4zM916.3 846.0H922.0V854.5H916.3zM882.4 837.5H888.0V846.0H882.4zM916.3 837.5H922.0V846.0H916.3zM876.7 829.0H888.0V837.5H876.7zM916.3 829.0H922.0V837.5H916.3zM876.7 820.5H888.0V829.0H876.7zM916.3 820.5H922.0V829.0H916.3zM854.1 812.0H859.7V820.5H854.1zM871.0 812.0H888.0V820.5H871.0zM916.3 812.0H922.0V820.5H916.3zM865.4 803.5H871.0V812.0H865.4zM876.7 803.5H888.0V812.0H876.7zM916.3 803.5H922.0V812.0H916.3zM848.4 795.0H859.7V803.5H848.4zM876.7 795.0H888.0V803.5H876.7zM831.4 786.5H837.1V795.0H831.4zM859.7 786.5H865.4V795.0H859.7zM876.7 786.5H888.0V795.0H876.7zM922.0 786.5H927.6V795.0H922.0zM825.8 778.0H831.4V786.5H825.8zM859.7 778.0H865.4V786.5H859.7zM876.7 778.0H882.4V786.5H876.7zM916.3 778.0H927.6V786.5H916.3zM854.1 769.5H859.7V778.0H854.1zM871.0 769.5H888.0V778.0H871.0zM825.8 761.0H842.7V769.5H825.8zM854.1 761.0H865.4V769.5H854.1zM871.0 761.0H888.0V769.5H871.0zM797.5 752.5H803.1V761.0H797.5zM820.1 752.5H825.8V761.0H820.1zM831.4 752.5H842.7V761.0H831.4zM848.4 752.5H859.7V761.0H848.4zM871.0 752.5H876.7V761.0H871.0zM888.0 752.5H893.7V761.0H888.0zM905.0 752.5H916.3V761.0H905.0zM922.0 752.5H927.6V761.0H922.0zM797.5 744.0H803.1V752.5H797.5zM820.1 744.0H825.8V752.5H820.1zM831.4 744.0H842.7V752.5H831.4zM848.4 744.0H865.4V752.5H848.4zM871.0 744.0H882.4V752.5H871.0zM888.0 744.0H893.7V752.5H888.0zM905.0 744.0H916.3V752.5H905.0zM922.0 744.0H927.6V752.5H922.0zM797.5 735.5H803.1V744.0H797.5zM820.1 735.5H825.8V744.0H820.1zM831.4 735.5H837.1V744.0H831.4zM842.7 735.5H854.1V744.0H842.7zM859.7 735.5H865.4V744.0H859.7zM871.0 735.5H882.4V744.0H871.0zM888.0 735.5H893.7V744.0H888.0zM899.3 735.5H905.0V744.0H899.3zM910.7 735.5H916.3V744.0H910.7zM922.0 735.5H927.6V744.0H922.0zM808.8 727.0H814.4V735.5H808.8zM831.4 727.0H837.1V735.5H831.4zM848.4 727.0H854.1V735.5H848.4zM859.7 727.0H865.4V735.5H859.7zM871.0 727.0H876.7V735.5H871.0zM888.0 727.0H910.7V735.5H888.0zM922.0 727.0H927.6V735.5H922.0zM808.8 718.5H814.4V727.0H808.8zM820.1 718.5H825.8V727.0H820.1zM831.4 718.5H848.4V727.0H831.4zM893.7 718.5H905.0V727.0H893.7zM922.0 718.5H927.6V727.0H922.0zM763.5 710.0H769.2V718.5H763.5zM820.1 710.0H825.8V718.5H820.1zM837.1 710.0H848.4V718.5H837.1zM888.0 710.0H899.3V718.5H888.0zM905.0 710.0H910.7V718.5H905.0zM922.0 710.0H927.6V718.5H922.0zM780.5 701.5H786.1V710.0H780.5zM808.8 701.5H814.4V710.0H808.8zM820.1 701.5H825.8V710.0H820.1zM831.4 701.5H837.1V710.0H831.4zM842.7 701.5H848.4V710.0H842.7zM922.0 701.5H927.6V710.0H922.0zM780.5 693.0H786.1V701.5H780.5zM797.5 693.0H803.1V701.5H797.5zM808.8 693.0H814.4V701.5H808.8zM820.1 693.0H825.8V701.5H820.1zM893.7 693.0H899.3V701.5H893.7zM905.0 693.0H910.7V701.5H905.0zM922.0 693.0H927.6V701.5H922.0zM763.5 684.5H769.2V693.0H763.5zM780.5 684.5H786.1V693.0H780.5zM820.1 684.5H825.8V693.0H820.1zM831.4 684.5H837.1V693.0H831.4zM893.7 684.5H899.3V693.0H893.7zM774.8 676.0H786.1V684.5H774.8zM808.8 676.0H814.4V684.5H808.8zM820.1 676.0H825.8V684.5H820.1zM893.7 676.0H899.3V684.5H893.7zM927.6 676.0H933.3V684.5H927.6zM808.8 667.5H814.4V676.0H808.8zM820.1 667.5H825.8V676.0H820.1zM831.4 667.5H837.1V676.0H831.4zM893.7 667.5H899.3V676.0H893.7zM927.6 667.5H933.3V676.0H927.6zM808.8 659.0H814.4V667.5H808.8zM820.1 659.0H825.8V667.5H820.1zM831.4 659.0H837.1V667.5H831.4zM893.7 659.0H899.3V667.5H893.7zM905.0 659.0H910.7V667.5H905.0zM763.5 650.5H769.2V659.0H763.5zM780.5 650.5H786.1V659.0H780.5zM820.1 650.5H842.7V659.0H820.1zM893.7 650.5H899.3V659.0H893.7zM927.6 650.5H933.3V659.0H927.6zM763.5 642.0H769.2V650.5H763.5zM774.8 642.0H786.1V650.5H774.8zM820.1 642.0H825.8V650.5H820.1zM831.4 642.0H848.4V650.5H831.4zM927.6 642.0H933.3V650.5H927.6zM763.5 633.5H769.2V642.0H763.5zM820.1 633.5H825.8V642.0H820.1zM831.4 633.5H854.1V642.0H831.4zM893.7 633.5H910.7V642.0H893.7zM763.5 625.0H769.2V633.5H763.5zM774.8 625.0H780.5V633.5H774.8zM825.8 625.0H831.4V633.5H825.8zM837.1 625.0H848.4V633.5H837.1zM893.7 625.0H910.7V633.5H893.7zM922.0 625.0H927.6V633.5H922.0zM763.5 616.5H769.2V625.0H763.5zM780.5 616.5H786.1V625.0H780.5zM825.8 616.5H831.4V625.0H825.8zM837.1 616.5H842.7V625.0H837.1zM893.7 616.5H899.3V625.0H893.7zM933.3 616.5H939.0V625.0H933.3zM763.5 608.0H769.2V616.5H763.5zM780.5 608.0H786.1V616.5H780.5zM825.8 608.0H831.4V616.5H825.8zM837.1 608.0H842.7V616.5H837.1zM893.7 608.0H899.3V616.5H893.7zM916.3 608.0H927.6V616.5H916.3zM763.5 599.5H769.2V608.0H763.5zM786.1 599.5H791.8V608.0H786.1zM825.8 599.5H831.4V608.0H825.8zM837.1 599.5H854.1V608.0H837.1zM893.7 599.5H905.0V608.0H893.7zM922.0 599.5H927.6V608.0H922.0zM763.5 591.0H769.2V599.5H763.5zM786.1 591.0H791.8V599.5H786.1zM825.8 591.0H831.4V599.5H825.8zM848.4 591.0H854.1V599.5H848.4zM882.4 591.0H888.0V599.5H882.4zM916.3 591.0H927.6V599.5H916.3zM763.5 582.5H769.2V591.0H763.5zM786.1 582.5H791.8V591.0H786.1zM797.5 582.5H803.1V591.0H797.5zM825.8 582.5H831.4V591.0H825.8zM842.7 582.5H859.7V591.0H842.7zM871.0 582.5H882.4V591.0H871.0zM922.0 582.5H927.6V591.0H922.0zM763.5 574.0H769.2V582.5H763.5zM780.5 574.0H791.8V582.5H780.5zM797.5 574.0H803.1V582.5H797.5zM825.8 574.0H831.4V582.5H825.8zM842.7 574.0H859.7V582.5H842.7zM871.0 574.0H882.4V582.5H871.0zM763.5 565.5H769.2V574.0H763.5zM780.5 565.5H786.1V574.0H780.5zM797.5 565.5H803.1V574.0H797.5zM854.1 565.5H859.7V574.0H854.1zM865.4 565.5H876.7V574.0H865.4zM905.0 565.5H910.7V574.0H905.0zM916.3 565.5H927.6V574.0H916.3zM763.5 557.0H769.2V565.5H763.5zM780.5 557.0H786.1V565.5H780.5zM825.8 557.0H831.4V565.5H825.8zM899.3 557.0H905.0V565.5H899.3zM910.7 557.0H916.3V565.5H910.7zM797.5 548.5H803.1V557.0H797.5zM831.4 548.5H837.1V557.0H831.4zM842.7 548.5H848.4V557.0H842.7zM910.7 548.5H916.3V557.0H910.7zM848.4 540.0H859.7V548.5H848.4zM820.1 531.5H825.8V540.0H820.1zM859.7 531.5H865.4V540.0H859.7zM876.7 531.5H882.4V540.0H876.7zM899.3 531.5H905.0V540.0H899.3zM916.3 531.5H922.0V540.0H916.3zM893.7 523.0H905.0V531.5H893.7zM820.1 514.5H825.8V523.0H820.1zM820.1 506.0H825.8V514.5H820.1zM780.5 497.5H786.1V506.0H780.5zM831.4 497.5H842.7V506.0H831.4zM780.5 489.0H786.1V497.5H780.5zM842.7 489.0H848.4V497.5H842.7zM763.5 480.5H769.2V489.0H763.5zM780.5 480.5H786.1V489.0H780.5zM808.8 480.5H814.4V489.0H808.8zM933.3 480.5H939.0V489.0H933.3zM763.5 472.0H769.2V480.5H763.5zM808.8 472.0H814.4V480.5H808.8zM927.6 472.0H933.3V480.5H927.6zM763.5 463.5H769.2V472.0H763.5zM808.8 463.5H814.4V472.0H808.8zM927.6 463.5H933.3V472.0H927.6zM763.5 455.0H769.2V463.5H763.5zM786.1 455.0H791.8V463.5H786.1zM905.0 455.0H910.7V463.5H905.0zM763.5 446.5H769.2V455.0H763.5zM780.5 446.5H791.8V455.0H780.5zM814.4 446.5H820.1V455.0H814.4zM888.0 446.5H893.7V455.0H888.0zM899.3 446.5H910.7V455.0H899.3zM916.3 446.5H922.0V455.0H916.3zM763.5 438.0H769.2V446.5H763.5zM780.5 438.0H786.1V446.5H780.5zM882.4 438.0H888.0V446.5H882.4zM899.3 438.0H905.0V446.5H899.3zM763.5 429.5H769.2V438.0H763.5zM780.5 429.5H786.1V438.0H780.5zM763.5 421.0H769.2V429.5H763.5zM774.8 421.0H780.5V429.5H774.8zM854.1 421.0H859.7V429.5H854.1zM876.7 421.0H882.4V429.5H876.7zM763.5 412.5H769.2V421.0H763.5zM774.8 412.5H780.5V421.0H774.8zM786.1 412.5H791.8V421.0H786.1zM763.5 404.0H769.2V412.5H763.5zM763.5 395.5H769.2V404.0H763.5zM763.5 387.0H769.2V395.5H763.5zM780.5 387.0H786.1V395.5H780.5zM763.5 378.5H769.2V387.0H763.5zM763.5 370.0H774.8V378.5H763.5z"/>
<path fill="#ffa800" d="M916.3 948.0H922.0V956.5H916.3zM916.3 888.5H922.0V897.0H916.3zM916.3 880.0H922.0V888.5H916.3zM916.3 871.5H922.0V880.0H916.3zM916.3 795.0H922.0V803.5H916.3zM854.1 786.5H859.7V795.0H854.1zM916.3 786.5H922.0V795.0H916.3zM854.1 778.0H859.7V786.5H854.1zM865.4 778.0H871.0V786.5H865.4zM882.4 778.0H888.0V786.5H882.4zM865.4 769.5H871.0V778.0H865.4zM922.0 769.5H927.6V778.0H922.0zM865.4 761.0H871.0V769.5H865.4zM922.0 761.0H927.6V769.5H922.0zM825.8 752.5H831.4V761.0H825.8zM865.4 752.5H871.0V761.0H865.4zM876.7 752.5H888.0V761.0H876.7zM825.8 744.0H831.4V752.5H825.8zM865.4 744.0H871.0V752.5H865.4zM882.4 744.0H888.0V752.5H882.4zM825.8 735.5H831.4V744.0H825.8zM837.1 735.5H842.7V744.0H837.1zM854.1 735.5H859.7V744.0H854.1zM865.4 735.5H871.0V744.0H865.4zM882.4 735.5H888.0V744.0H882.4zM905.0 735.5H910.7V744.0H905.0zM916.3 735.5H922.0V744.0H916.3zM797.5 727.0H803.1V735.5H797.5zM820.1 727.0H831.4V735.5H820.1zM842.7 727.0H848.4V735.5H842.7zM854.1 727.0H859.7V735.5H854.1zM865.4 727.0H871.0V735.5H865.4zM876.7 727.0H888.0V735.5H876.7zM797.5 718.5H803.1V727.0H797.5zM825.8 718.5H831.4V727.0H825.8zM854.1 718.5H865.4V727.0H854.1zM871.0 718.5H893.7V727.0H871.0zM916.3 718.5H922.0V727.0H916.3zM797.5 710.0H803.1V718.5H797.5zM825.8 710.0H831.4V718.5H825.8zM848.4 710.0H854.1V718.5H848.4zM859.7 710.0H865.4V718.5H859.7zM876.7 710.0H888.0V718.5H876.7zM899.3 710.0H905.0V718.5H899.3zM916.3 710.0H922.0V718.5H916.3zM797.5 701.5H803.1V710.0H797.5zM825.8 701.5H831.4V710.0H825.8zM837.1 701.5H842.7V710.0H837.1zM848.4 701.5H859.7V710.0H848.4zM876.7 701.5H910.7V710.0H876.7zM916.3 701.5H922.0V710.0H916.3zM774.8 693.0H780.5V701.5H774.8zM825.8 693.0H854.1V701.5H825.8zM859.7 693.0H865.4V701.5H859.7zM882.4 693.0H893.7V701.5H882.4zM916.3 693.0H922.0V701.5H916.3zM774.8 684.5H780.5V693.0H774.8zM808.8 684.5H814.4V693.0H808.8zM837.1 684.5H865.4V693.0H837.1zM899.3 684.5H910.7V693.0H899.3zM916.3 684.5H922.0V693.0H916.3zM797.5 676.0H803.1V684.5H797.5zM825.8 676.0H854.1V684.5H825.8zM859.7 676.0H865.4V684.5H859.7zM871.0 676.0H876.7V684.5H871.0zM899.3 676.0H910.7V684.5H899.3zM922.0 676.0H927.6V684.5H922.0zM774.8 667.5H780.5V676.0H774.8zM797.5 667.5H803.1V676.0H797.5zM825.8 667.5H831.4V676.0H825.8zM837.1 667.5H842.7V676.0H837.1zM848.4 667.5H865.4V676.0H848.4zM871.0 667.5H882.4V676.0H871.0zM899.3 667.5H910.7V676.0H899.3zM916.3 667.5H927.6V676.0H916.3zM774.8 659.0H780.5V667.5H774.8zM797.5 659.0H803.1V667.5H797.5zM825.8 659.0H831.4V667.5H825.8zM837.1 659.0H842.7V667.5H837.1zM859.7 659.0H865.4V667.5H859.7zM882.4 659.0H893.7V667.5H882.4zM899.3 659.0H905.0V667.5H899.3zM922.0 659.0H933.3V667.5H922.0zM774.8 650.5H780.5V659.0H774.8zM842.7 650.5H848.4V659.0H842.7zM859.7 650.5H865.4V659.0H859.7zM888.0 650.5H893.7V659.0H888.0zM899.3 650.5H910.7V659.0H899.3zM922.0 650.5H927.6V659.0H922.0zM825.8 642.0H831.4V650.5H825.8zM859.7 642.0H865.4V650.5H859.7zM893.7 642.0H910.7V650.5H893.7zM922.0 642.0H927.6V650.5H922.0zM774.8 633.5H780.5V642.0H774.8zM825.8 633.5H831.4V642.0H825.8zM859.7 633.5H865.4V642.0H859.7zM882.4 633.5H888.0V642.0H882.4zM916.3 633.5H927.6V642.0H916.3zM848.4 625.0H854.1V633.5H848.4zM859.7 625.0H865.4V633.5H859.7zM888.0 625.0H893.7V633.5H888.0zM916.3 625.0H922.0V633.5H916.3zM842.7 616.5H848.4V625.0H842.7zM916.3 616.5H922.0V625.0H916.3zM842.7 608.0H854.1V616.5H842.7zM859.7 608.0H865.4V616.5H859.7zM871.0 608.0H876.7V616.5H871.0zM780.5 599.5H786.1V608.0H780.5zM859.7 599.5H865.4V608.0H859.7zM871.0 599.5H876.7V608.0H871.0zM882.4 599.5H893.7V608.0H882.4zM916.3 599.5H922.0V608.0H916.3zM780.5 591.0H786.1V599.5H780.5zM854.1 591.0H882.4V599.5H854.1zM780.5 582.5H786.1V591.0H780.5zM865.4 582.5H871.0V591.0H865.4zM882.4 582.5H888.0V591.0H882.4zM865.4 574.0H871.0V582.5H865.4zM905.0 557.0H910.7V565.5H905.0zM916.3 557.0H927.6V565.5H916.3zM825.8 548.5H831.4V557.0H825.8zM837.1 548.5H842.7V557.0H837.1zM899.3 548.5H910.7V557.0H899.3zM916.3 548.5H922.0V557.0H916.3zM825.8 540.0H848.4V548.5H825.8zM888.0 540.0H893.7V548.5H888.0zM905.0 540.0H910.7V548.5H905.0zM916.3 540.0H922.0V548.5H916.3zM831.4 531.5H837.1V540.0H831.4zM842.7 531.5H859.7V540.0H842.7zM871.0 531.5H876.7V540.0H871.0zM882.4 531.5H893.7V540.0H882.4zM859.7 523.0H865.4V531.5H859.7zM871.0 523.0H876.7V531.5H871.0zM888.0 523.0H893.7V531.5H888.0zM888.0 514.5H893.7V523.0H888.0zM882.4 506.0H888.0V514.5H882.4zM859.7 497.5H865.4V506.0H859.7zM820.1 489.0H825.8V497.5H820.1zM848.4 489.0H865.4V497.5H848.4zM871.0 489.0H882.4V497.5H871.0zM927.6 489.0H933.3V497.5H927.6zM927.6 480.5H933.3V489.0H927.6zM780.5 472.0H786.1V480.5H780.5zM814.4 472.0H820.1V480.5H814.4zM922.0 472.0H927.6V480.5H922.0zM933.3 472.0H939.0V480.5H933.3zM780.5 463.5H786.1V472.0H780.5zM916.3 463.5H927.6V472.0H916.3zM933.3 463.5H939.0V472.0H933.3zM780.5 455.0H786.1V463.5H780.5zM808.8 455.0H814.4V463.5H808.8zM916.3 455.0H927.6V463.5H916.3zM797.5 429.5H803.1V438.0H797.5zM865.4 421.0H871.0V429.5H865.4zM780.5 412.5H786.1V421.0H780.5zM791.8 395.5H797.5V404.0H791.8zM769.2 378.5H780.5V387.0H769.2z"/>
<path fill="#ff6000" d="M916.3 769.5H922.0V778.0H916.3zM916.3 761.0H922.0V769.5H916.3zM916.3 752.5H922.0V761.0H916.3zM916.3 744.0H922.0V752.5H916.3zM916.3 727.0H922.0V735.5H916.3zM848.4 718.5H854.1V727.0H848.4zM865.4 718.5H871.0V727.0H865.4zM905.0 718.5H910.7V727.0H905.0zM854.1 710.0H859.7V718.5H854.1zM871.0 710.0H876.7V718.5H871.0zM859.7 701.5H865.4V710.0H859.7zM871.0 701.5H876.7V710.0H871.0zM854.1 693.0H859.7V701.5H854.1zM871.0 693.0H882.4V701.5H871.0zM899.3 693.0H905.0V701.5H899.3zM797.5 684.5H803.1V693.0H797.5zM825.8 684.5H831.4V693.0H825.8zM871.0 684.5H893.7V693.0H871.0zM922.0 684.5H927.6V693.0H922.0zM854.1 676.0H859.7V684.5H854.1zM876.7 676.0H893.7V684.5H876.7zM916.3 676.0H922.0V684.5H916.3zM842.7 667.5H848.4V676.0H842.7zM882.4 667.5H893.7V676.0H882.4zM842.7 659.0H859.7V667.5H842.7zM871.0 659.0H882.4V667.5H871.0zM916.3 659.0H922.0V667.5H916.3zM848.4 650.5H859.7V659.0H848.4zM871.0 650.5H888.0V659.0H871.0zM916.3 650.5H922.0V659.0H916.3zM848.4 642.0H859.7V650.5H848.4zM871.0 642.0H893.7V650.5H871.0zM916.3 642.0H922.0V650.5H916.3zM854.1 633.5H859.7V642.0H854.1zM871.0 633.5H882.4V642.0H871.0zM888.0 633.5H893.7V642.0H888.0zM854.1 625.0H859.7V633.5H854.1zM871.0 625.0H888.0V633.5H871.0zM848.4 616.5H865.4V625.0H848.4zM871.0 616.5H893.7V625.0H871.0zM854.1 608.0H859.7V616.5H854.1zM865.4 608.0H871.0V616.5H865.4zM882.4 608.0H893.7V616.5H882.4zM854.1 599.5H859.7V608.0H854.1zM865.4 599.5H871.0V608.0H865.4zM876.7 599.5H882.4V608.0H876.7zM865.4 531.5H871.0V540.0H865.4zM842.7 523.0H859.7V531.5H842.7zM865.4 523.0H871.0V531.5H865.4zM876.7 523.0H888.0V531.5H876.7zM837.1 514.5H842.7V523.0H837.1zM882.4 514.5H888.0V523.0H882.4zM831.4 506.0H842.7V514.5H831.4zM859.7 506.0H865.4V514.5H859.7zM820.1 497.5H825.8V506.0H820.1zM842.7 497.5H848.4V506.0H842.7zM865.4 489.0H871.0V497.5H865.4zM797.5 438.0H803.1V446.5H797.5zM797.5 421.0H803.1V429.5H797.5zM780.5 404.0H791.8V412.5H780.5zM797.5 404.0H803.1V412.5H797.5zM786.1 387.0H797.5V395.5H786.1zM763.5 361.5H769.2V370.0H763.5z"/>
<path fill="#ff2800" d="M865.4 710.0H871.0V718.5H865.4zM865.4 701.5H871.0V710.0H865.4zM865.4 693.0H871.0V701.5H865.4zM865.4 684.5H871.0V693.0H865.4zM865.4 676.0H871.0V684.5H865.4zM865.4 667.5H871.0V676.0H865.4zM865.4 659.0H871.0V667.5H865.4zM865.4 650.5H871.0V659.0H865.4zM865.4 642.0H871.0V650.5H865.4zM865.4 633.5H871.0V642.0H865.4zM865.4 625.0H871.0V633.5H865.4zM865.4 616.5H871.0V625.0H865.4zM876.7 608.0H882.4V616.5H876.7zM825.8 531.5H831.4V540.0H825.8zM837.1 531.5H842.7V540.0H837.1zM831.4 523.0H837.1V531.5H831.4zM854.1 514.5H865.4V523.0H854.1zM871.0 514.5H882.4V523.0H871.0zM848.4 506.0H854.1V514.5H848.4zM871.0 506.0H882.4V514.5H871.0zM848.4 497.5H859.7V506.0H848.4zM871.0 497.5H882.4V506.0H871.0zM820.1 480.5H825.8V489.0H820.1zM820.1 472.0H825.8V480.5H820.1zM814.4 463.5H825.8V472.0H814.4zM814.4 455.0H825.8V463.5H814.4zM808.8 446.5H814.4V455.0H808.8zM803.1 438.0H808.8V446.5H803.1zM803.1 429.5H808.8V438.0H803.1zM791.8 421.0H797.5V429.5H791.8zM797.5 412.5H803.1V421.0H797.5zM780.5 395.5H791.8V404.0H780.5z"/>
<path fill="#b80000" d="M825.8 523.0H831.4V531.5H825.8zM837.1 523.0H842.7V531.5H837.1zM825.8 514.5H837.1V523.0H825.8zM842.7 514.5H854.1V523.0H842.7zM865.4 514.5H871.0V523.0H865.4zM825.8 506.0H831.4V514.5H825.8zM842.7 506.0H848.4V514.5H842.7zM854.1 506.0H859.7V514.5H854.1zM865.4 506.0H871.0V514.5H865.4zM825.8 497.5H831.4V506.0H825.8zM865.4 497.5H871.0V506.0H865.4zM825.8 489.0H831.4V497.5H825.8zM825.8 480.5H831.4V489.0H825.8z"/>
</g>
<defs><linearGradient id="jet" x1="0" y1="1" x2="0" y2="0">
<stop offset="0.0000" stop-color="#000080"/>
<stop offset="0.0312" stop-color="#00009f"/>
<stop offset="0.0625" stop-color="#0000bf"/>
<stop offset="0.0938" stop-color="#0000df"/>
<stop offset="0.1250" stop-color="#0000ff"/>
<stop offset="0.1562" stop-color="#0020ff"/>
<stop offset="0.1875" stop-color="#0040ff"/>
<stop offset="0.2188" stop-color="#0060ff"/>
<stop offset="0.2500" stop-color="#0080ff"/>
<stop offset="0.2812" stop-color="#009fff"/>
<stop offset="0.3125" stop-color="#00bfff"/>
<stop offset="0.3438" stop-color="#00dfff"/>
<stop offset="0.3750" stop-color="#00ffff"/>
<stop offset="0.4062" stop-color="#20ffdf"/>
<stop offset="0.4375" stop-color="#40ffbf"/>
<stop offset="0.4688" stop-color="#60ff9f"/>
<stop offset="0.5000" stop-color="#80ff80"/>
<stop offset="0.5312" stop-color="#9fff60"/>
<stop offset="0.5625" stop-color="#bfff40"/>
<stop offset="0.5938" stop-color="#dfff20"/>
<stop offset="0.6250" stop-color="#ffff00"/>
<stop offset="0.6562" stop-color="#ffdf00"/>
<stop offset="0.6875" stop-color="#ffbf00"/>
<stop offset="0.7188" stop-color="#ff9f00"/>
<stop offset="0.7500" stop-color="#ff8000"/>
<stop offset="0.7812" stop-color="#ff6000"/>
<stop offset="0.8125" stop-color="#ff4000"/>
<stop offset="0.8438" stop-color="#ff2000"/>
<stop offset="0.8750" stop-color="#ff0000"/>
<stop offset="0.9062" stop-color="#df0000"/>
<stop offset="0.9375" stop-color="#bf0000"/>
<stop offset="0.9688" stop-color="#9f0000"/>
<stop offset="1.0000" stop-color="#800000"/>
</linearGradient></defs>
<rect x="1458" y="96.5" width="67" height="1072.0" fill="url(#jet)"/>
<g stroke="#262626" stroke-width="2" fill="none" shape-rendering="crispEdges">
<path d="M1458 1168.5V96.5H1525V1168.5Z"/>
<path d="M1525 1134.4h-12M1525 1040.0h-12M1525 945.6h-12M1525 851.1h-12M1525 756.7h-12M1525 662.3h-12M1525 567.9h-12M1525 473.5h-12M1525 379.0h-12M1525 284.6h-12M1525 190.2h-12"/>
</g>
<g font-family="'Liberation Sans', sans-serif" fill="#262626">
<text x="170.5" y="1032.8" font-size="42" text-anchor="end">0.5</text>
<text x="170.5" y="868.6" font-size="42" text-anchor="end">1</text>
<text x="170.5" y="704.4" font-size="42" text-anchor="end">1.5</text>
<text x="170.5" y="540.2" font-size="42" text-anchor="end">2</text>
<text x="170.5" y="376.0" font-size="42" text-anchor="end">2.5</text>
<text x="170.5" y="211.8" font-size="42" text-anchor="end">3</text>
<text x="197.5" y="1239" font-size="42" text-anchor="middle">00:00</text>
<text x="344.1" y="1239" font-size="42" text-anchor="middle">03:00</text>
<text x="490.6" y="1239" font-size="42" text-anchor="middle">06:00</text>
<text x="637.2" y="1239" font-size="42" text-anchor="middle">09:00</text>
<text x="783.8" y="1239" font-size="42" text-anchor="middle">12:00</text>
<text x="930.3" y="1239" font-size="42" text-anchor="middle">15:00</text>
<text x="1076.9" y="1239" font-size="42" text-anchor="middle">18:00</text>
<text x="1223.4" y="1239" font-size="42" text-anchor="middle">21:00</text>
<text x="1370.0" y="1239" font-size="42" text-anchor="middle">00:00</text>
<text x="784.5" y="1301" font-size="46" text-anchor="middle">Time of Day (UTC00:00 hr)</text>
<text transform="translate(87,632) rotate(-90)" x="0" y="0" font-size="46" text-anchor="middle">Distance (km)</text>
<text x="1540" y="1149.9" font-size="38">-28</text>
<text x="1540" y="1055.5" font-size="38">-27</text>
<text x="1540" y="961.1" font-size="38">-26</text>
<text x="1540" y="866.6" font-size="38">-25</text>
<text x="1540" y="772.2" font-size="38">-24</text>
<text x="1540" y="677.8" font-size="38">-23</text>
<text x="1540" y="583.4" font-size="38">-22</text>
<text x="1540" y="489.0" font-size="38">-21</text>
<text x="1540" y="394.5" font-size="38">-20</text>
<text x="1540" y="300.1" font-size="38">-19</text>
<text x="1540" y="205.7" font-size="38">-18</text>
<text transform="translate(1650,634) rotate(-90)" x="0" y="0" font-size="41.6" text-anchor="middle">Wind Speed, m/s</text>
</g>
<text x="784" y="84" font-family="'Liberation Sans', sans-serif" font-size="45.8" font-weight="bold" fill="#000" text-anchor="middle">Horizontal Wind Speed South 2024-08-23 00-01 to 08-23 23-56</text>
</svg>
</body></html>
